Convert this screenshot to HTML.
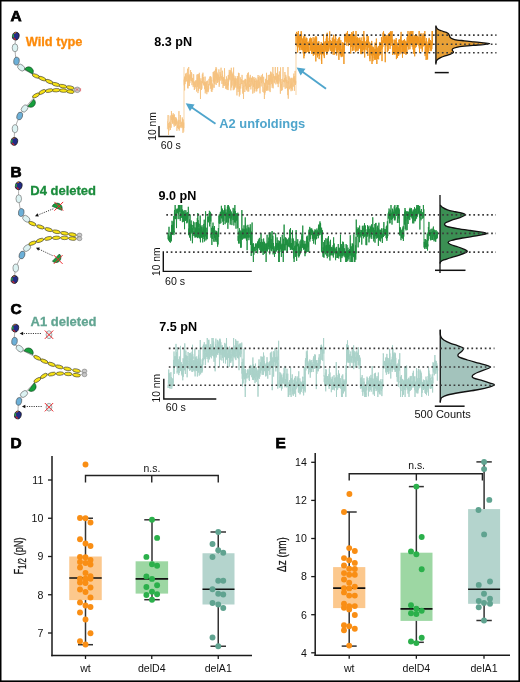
<!DOCTYPE html><html><head><meta charset="utf-8"><style>html,body{margin:0;padding:0;background:#fff;}svg{display:block;will-change:transform;}</style></head><body><svg width="520" height="682" viewBox="0 0 520 682" font-family='"Liberation Sans", sans-serif'>
<rect x="0" y="0" width="520" height="682" fill="#000"/>
<rect x="1.5" y="1.5" width="516.9" height="678.9" fill="#fff"/>
<text x="10.6" y="20.8" font-size="15.4" font-weight="bold" fill="#000" text-anchor="start" stroke="#000" stroke-width="0.75">A</text>
<text x="10.6" y="176.8" font-size="15.4" font-weight="bold" fill="#000" text-anchor="start" stroke="#000" stroke-width="0.75">B</text>
<text x="10.4" y="313.6" font-size="15.4" font-weight="bold" fill="#000" text-anchor="start" stroke="#000" stroke-width="0.75">C</text>
<text x="10.6" y="448.3" font-size="15.4" font-weight="bold" fill="#000" text-anchor="start" stroke="#000" stroke-width="0.75">D</text>
<text x="275.4" y="448.1" font-size="15.4" font-weight="bold" fill="#000" text-anchor="start" stroke="#000" stroke-width="0.75">E</text>
<path d="M15.8,36.1 C15.67,38.05 14.88,43.63 15,47.8 C15.12,51.97 15.47,57.8 16.5,61.1 C17.53,64.4 17.95,65.12 21.2,67.6 C24.45,70.08 32.5,74.17 36,76 C39.5,77.83 40,77.67 42.2,78.6 C44.4,79.53 46.92,80.63 49.2,81.6 C51.48,82.57 53.62,83.63 55.9,84.4 C58.18,85.17 60.5,85.67 62.9,86.2 C65.3,86.73 67.9,87 70.3,87.6 C72.7,88.2 77.3,89.13 77.3,89.8 C77.3,90.47 72.63,91.47 70.3,91.6 C67.97,91.73 65.65,90.83 63.3,90.6 C60.95,90.37 58.55,90.2 56.2,90.2 C53.85,90.2 51.53,90.3 49.2,90.6 C46.87,90.9 44.4,91.18 42.2,92 C40,92.82 38.93,92.75 36,95.5 C33.07,98.25 27.32,105.08 24.6,108.5 C21.88,111.92 21.3,112.63 19.7,116 C18.1,119.37 15.9,124.47 15,128.7 C14.1,132.93 14.42,139.28 14.3,141.4" fill="none" stroke="#777" stroke-width="0.6"/>
<ellipse cx="15.8" cy="36.1" rx="3.3" ry="3.9" transform="rotate(15 15.8 36.1)" fill="#232c86" stroke="#111" stroke-width="0.7"/>
<path d="M13.4,34.3 Q12.8,36.1 13.6,37.3" stroke="#2aa040" stroke-width="1.4" fill="none"/>
<path d="M13.8,37.7 Q14.6,39.3 15.8,39.5" stroke="#c8282a" stroke-width="1.2" fill="none"/>
<path d="M14,33.5 Q14.8,32.6 16.1,32.7" stroke="#d07020" stroke-width="1.0" fill="none"/>
<ellipse cx="15" cy="47.8" rx="4.0" ry="2.8" transform="rotate(90 15 47.8)" fill="#dcf2f2" stroke="#666" stroke-width="0.6"/>
<ellipse cx="16.5" cy="61.1" rx="4.0" ry="2.8" transform="rotate(100 16.5 61.1)" fill="#6cb0d8" stroke="#555" stroke-width="0.6"/>
<ellipse cx="21.2" cy="67.6" rx="4.0" ry="2.8" transform="rotate(40 21.2 67.6)" fill="#dcf2f2" stroke="#666" stroke-width="0.6"/>
<ellipse cx="24.6" cy="108.5" rx="4.0" ry="2.8" transform="rotate(-50 24.6 108.5)" fill="#dcf2f2" stroke="#666" stroke-width="0.6"/>
<ellipse cx="19.7" cy="116" rx="4.0" ry="2.8" transform="rotate(-70 19.7 116)" fill="#6cb0d8" stroke="#555" stroke-width="0.6"/>
<ellipse cx="15" cy="128.7" rx="4.0" ry="2.8" transform="rotate(-85 15 128.7)" fill="#dcf2f2" stroke="#666" stroke-width="0.6"/>
<ellipse cx="14.3" cy="141.4" rx="3.3" ry="3.9" transform="rotate(15 14.3 141.4)" fill="#232c86" stroke="#111" stroke-width="0.7"/>
<path d="M11.9,139.6 Q11.3,141.4 12.1,142.6" stroke="#2aa040" stroke-width="1.4" fill="none"/>
<path d="M12.3,143 Q13.1,144.6 14.3,144.8" stroke="#c8282a" stroke-width="1.2" fill="none"/>
<path d="M12.5,138.8 Q13.3,137.9 14.6,138" stroke="#d07020" stroke-width="1.0" fill="none"/>
<ellipse cx="36" cy="76" rx="3.9" ry="1.75" transform="rotate(22.75 36 76)" fill="#f7e216" stroke="#2a2a2a" stroke-width="0.55"/>
<ellipse cx="42.2" cy="78.6" rx="3.9" ry="1.75" transform="rotate(23.2 42.2 78.6)" fill="#f7e216" stroke="#2a2a2a" stroke-width="0.55"/>
<ellipse cx="49.2" cy="81.6" rx="3.9" ry="1.75" transform="rotate(22.68 49.2 81.6)" fill="#f7e216" stroke="#2a2a2a" stroke-width="0.55"/>
<ellipse cx="55.9" cy="84.4" rx="3.9" ry="1.75" transform="rotate(14.42 55.9 84.4)" fill="#f7e216" stroke="#2a2a2a" stroke-width="0.55"/>
<ellipse cx="62.9" cy="86.2" rx="3.9" ry="1.75" transform="rotate(10.71 62.9 86.2)" fill="#f7e216" stroke="#2a2a2a" stroke-width="0.55"/>
<ellipse cx="70.3" cy="87.6" rx="3.9" ry="1.75" transform="rotate(10.71 70.3 87.6)" fill="#f7e216" stroke="#2a2a2a" stroke-width="0.55"/>
<ellipse cx="70.3" cy="91.6" rx="3.9" ry="1.75" transform="rotate(-171.87 70.3 91.6)" fill="#f7e216" stroke="#2a2a2a" stroke-width="0.55"/>
<ellipse cx="63.3" cy="90.6" rx="3.9" ry="1.75" transform="rotate(-176.78 63.3 90.6)" fill="#f7e216" stroke="#2a2a2a" stroke-width="0.55"/>
<ellipse cx="56.2" cy="90.2" rx="3.9" ry="1.75" transform="rotate(176.73 56.2 90.2)" fill="#f7e216" stroke="#2a2a2a" stroke-width="0.55"/>
<ellipse cx="49.2" cy="90.6" rx="3.9" ry="1.75" transform="rotate(168.69 49.2 90.6)" fill="#f7e216" stroke="#2a2a2a" stroke-width="0.55"/>
<ellipse cx="42.2" cy="92" rx="3.9" ry="1.75" transform="rotate(150.55 42.2 92)" fill="#f7e216" stroke="#2a2a2a" stroke-width="0.55"/>
<ellipse cx="36" cy="95.5" rx="3.9" ry="1.75" transform="rotate(150.55 36 95.5)" fill="#f7e216" stroke="#2a2a2a" stroke-width="0.55"/>
<ellipse cx="77.3" cy="89.8" rx="2.8" ry="2.8" transform="rotate(0 77.3 89.8)" fill="#c8c8c8" stroke="#777" stroke-width="0.6"/>
<path d="M75.8,88.3 l2.5,2.5 m0,-2.5 l-2.5,2.5" stroke="#e0303a" stroke-width="0.6"/>
<path d="M80.6,88.2 v3.2" stroke="#e0303a" stroke-width="0.6"/>
<path d="M24.6,69.2 A4.68,4.68 0 0 1 32.7,73.9 Z" fill="#16a03c" stroke="#0a3a18" stroke-width="0.6"/>
<path d="M27.8,106.2 A4.61,4.61 0 0 0 33.8,99.2 Z" fill="#16a03c" stroke="#0a3a18" stroke-width="0.6"/>
<path d="M18.75,185.75 C18.75,187.92 18.33,194.29 18.75,198.75 C19.17,203.21 20,209.17 21.25,212.5 C22.5,215.83 24.41,216.9 26.25,218.75 C28.09,220.6 29.94,222.24 32.3,223.6 C34.66,224.96 37.68,225.9 40.4,226.9 C43.12,227.9 45.93,228.78 48.6,229.6 C51.27,230.42 53.75,231.18 56.4,231.8 C59.05,232.42 61.82,232.83 64.5,233.3 C67.18,233.77 70,234 72.5,234.6 C75,235.2 79.5,236.23 79.5,236.9 C79.5,237.57 75,238.43 72.5,238.6 C70,238.77 67.21,238.03 64.5,237.9 C61.79,237.77 58.96,237.72 56.25,237.8 C53.54,237.88 50.96,237.97 48.25,238.4 C45.54,238.83 42.62,239.6 40,240.4 C37.38,241.2 34.67,241.93 32.5,243.2 C30.33,244.47 28.75,246.03 27,248 C25.25,249.97 23.88,251.67 22,255 C20.12,258.33 17,263.92 15.75,268 C14.5,272.08 14.71,277.58 14.5,279.5" fill="none" stroke="#777" stroke-width="0.6"/>
<ellipse cx="18.75" cy="185.75" rx="3.3" ry="3.9" transform="rotate(15 18.75 185.75)" fill="#232c86" stroke="#111" stroke-width="0.7"/>
<path d="M16.35,183.95 Q15.75,185.75 16.55,186.95" stroke="#2aa040" stroke-width="1.4" fill="none"/>
<path d="M16.75,187.35 Q17.55,188.95 18.75,189.15" stroke="#c8282a" stroke-width="1.2" fill="none"/>
<path d="M16.95,183.15 Q17.75,182.25 19.05,182.35" stroke="#d07020" stroke-width="1.0" fill="none"/>
<ellipse cx="18.75" cy="198.75" rx="4.0" ry="2.8" transform="rotate(90 18.75 198.75)" fill="#dcf2f2" stroke="#666" stroke-width="0.6"/>
<ellipse cx="21.25" cy="212.5" rx="4.0" ry="2.8" transform="rotate(100 21.25 212.5)" fill="#6cb0d8" stroke="#555" stroke-width="0.6"/>
<ellipse cx="26.25" cy="218.75" rx="4.0" ry="2.8" transform="rotate(40 26.25 218.75)" fill="#dcf2f2" stroke="#666" stroke-width="0.6"/>
<ellipse cx="27" cy="248" rx="4.0" ry="2.8" transform="rotate(-40 27 248)" fill="#dcf2f2" stroke="#666" stroke-width="0.6"/>
<ellipse cx="22" cy="255" rx="4.0" ry="2.8" transform="rotate(-70 22 255)" fill="#6cb0d8" stroke="#555" stroke-width="0.6"/>
<ellipse cx="15.75" cy="268" rx="4.0" ry="2.8" transform="rotate(-85 15.75 268)" fill="#dcf2f2" stroke="#666" stroke-width="0.6"/>
<ellipse cx="14.5" cy="279.5" rx="3.3" ry="3.9" transform="rotate(15 14.5 279.5)" fill="#232c86" stroke="#111" stroke-width="0.7"/>
<path d="M12.1,277.7 Q11.5,279.5 12.3,280.7" stroke="#2aa040" stroke-width="1.4" fill="none"/>
<path d="M12.5,281.1 Q13.3,282.7 14.5,282.9" stroke="#c8282a" stroke-width="1.2" fill="none"/>
<path d="M12.7,276.9 Q13.5,276 14.8,276.1" stroke="#d07020" stroke-width="1.0" fill="none"/>
<ellipse cx="32.3" cy="223.6" rx="3.9" ry="1.75" transform="rotate(22.17 32.3 223.6)" fill="#f7e216" stroke="#2a2a2a" stroke-width="0.55"/>
<ellipse cx="40.4" cy="226.9" rx="3.9" ry="1.75" transform="rotate(18.23 40.4 226.9)" fill="#f7e216" stroke="#2a2a2a" stroke-width="0.55"/>
<ellipse cx="48.6" cy="229.6" rx="3.9" ry="1.75" transform="rotate(15.75 48.6 229.6)" fill="#f7e216" stroke="#2a2a2a" stroke-width="0.55"/>
<ellipse cx="56.4" cy="231.8" rx="3.9" ry="1.75" transform="rotate(10.49 56.4 231.8)" fill="#f7e216" stroke="#2a2a2a" stroke-width="0.55"/>
<ellipse cx="64.5" cy="233.3" rx="3.9" ry="1.75" transform="rotate(9.23 64.5 233.3)" fill="#f7e216" stroke="#2a2a2a" stroke-width="0.55"/>
<ellipse cx="72.5" cy="234.6" rx="3.9" ry="1.75" transform="rotate(9.23 72.5 234.6)" fill="#f7e216" stroke="#2a2a2a" stroke-width="0.55"/>
<ellipse cx="72.5" cy="238.6" rx="3.9" ry="1.75" transform="rotate(-175 72.5 238.6)" fill="#f7e216" stroke="#2a2a2a" stroke-width="0.55"/>
<ellipse cx="64.5" cy="237.9" rx="3.9" ry="1.75" transform="rotate(-179.31 64.5 237.9)" fill="#f7e216" stroke="#2a2a2a" stroke-width="0.55"/>
<ellipse cx="56.25" cy="237.8" rx="3.9" ry="1.75" transform="rotate(175.71 56.25 237.8)" fill="#f7e216" stroke="#2a2a2a" stroke-width="0.55"/>
<ellipse cx="48.25" cy="238.4" rx="3.9" ry="1.75" transform="rotate(166.37 48.25 238.4)" fill="#f7e216" stroke="#2a2a2a" stroke-width="0.55"/>
<ellipse cx="40" cy="240.4" rx="3.9" ry="1.75" transform="rotate(159.53 40 240.4)" fill="#f7e216" stroke="#2a2a2a" stroke-width="0.55"/>
<ellipse cx="32.5" cy="243.2" rx="3.9" ry="1.75" transform="rotate(159.53 32.5 243.2)" fill="#f7e216" stroke="#2a2a2a" stroke-width="0.55"/>
<ellipse cx="79.5" cy="235.1" rx="2.4" ry="2.0" transform="rotate(0 79.5 235.1)" fill="#c8c8c8" stroke="#777" stroke-width="0.6"/>
<ellipse cx="79.5" cy="238.7" rx="2.4" ry="2.0" transform="rotate(0 79.5 238.7)" fill="#c8c8c8" stroke="#777" stroke-width="0.6"/>
<path d="M52.2,206.3 A5.2,5.2 0 0 1 61.8,210.3 Z" fill="#16a03c" stroke="#0a3a18" stroke-width="0.6"/>
<path d="M54.4,201.9 L63.2,210.7 M63.2,201.9 L54.4,210.7" stroke="#f0282d" stroke-width="1.0"/>
<path d="M52.4,261.2 A5.02,5.02 0 0 0 59.4,254 Z" fill="#16a03c" stroke="#0a3a18" stroke-width="0.6"/>
<path d="M53.8,255.1 L62.6,263.9 M62.6,255.1 L53.8,263.9" stroke="#f0282d" stroke-width="1.0"/>
<line x1="53.3" y1="208.8" x2="38.15" y2="214.93" stroke="#222" stroke-width="0.9" stroke-dasharray="1.1 1.2"/>
<path d="M35,216.2 L37.48,213.26 L38.83,216.59 Z" fill="#111"/>
<line x1="52.5" y1="255.6" x2="39.07" y2="249.17" stroke="#222" stroke-width="0.9" stroke-dasharray="1.1 1.2"/>
<path d="M36,247.7 L39.84,247.54 L38.29,250.79 Z" fill="#111"/>
<path d="M15.3,328.1 C15.17,330.3 13.77,337.88 14.5,341.3 C15.23,344.72 15.9,345.85 19.7,348.6 C23.5,351.35 33.22,355.7 37.3,357.8 C41.38,359.9 41.82,360.12 44.2,361.2 C46.58,362.28 49.08,363.35 51.6,364.3 C54.12,365.25 56.65,366.13 59.3,366.9 C61.95,367.67 64.63,368.28 67.5,368.9 C70.37,369.52 73.67,369.93 76.5,370.6 C79.33,371.27 84.5,372.13 84.5,372.9 C84.5,373.67 79.22,375.02 76.5,375.2 C73.78,375.38 70.95,374.27 68.2,374 C65.45,373.73 62.72,373.58 60,373.6 C57.28,373.62 54.58,373.72 51.9,374.1 C49.22,374.48 46.33,374.9 43.9,375.9 C41.47,376.9 40.62,377.08 37.3,380.1 C33.98,383.12 27.07,390.45 24,394 C20.93,397.55 19.92,397.9 18.9,401.4 C17.88,404.9 18.07,412.73 17.9,415" fill="none" stroke="#777" stroke-width="0.6"/>
<ellipse cx="15.3" cy="328.1" rx="3.3" ry="3.9" transform="rotate(15 15.3 328.1)" fill="#232c86" stroke="#111" stroke-width="0.7"/>
<path d="M12.9,326.3 Q12.3,328.1 13.1,329.3" stroke="#2aa040" stroke-width="1.4" fill="none"/>
<path d="M13.3,329.7 Q14.1,331.3 15.3,331.5" stroke="#c8282a" stroke-width="1.2" fill="none"/>
<path d="M13.5,325.5 Q14.3,324.6 15.6,324.7" stroke="#d07020" stroke-width="1.0" fill="none"/>
<ellipse cx="14.5" cy="341.3" rx="4.0" ry="2.8" transform="rotate(100 14.5 341.3)" fill="#6cb0d8" stroke="#555" stroke-width="0.6"/>
<ellipse cx="19.7" cy="348.6" rx="4.0" ry="2.8" transform="rotate(40 19.7 348.6)" fill="#dcf2f2" stroke="#666" stroke-width="0.6"/>
<ellipse cx="24" cy="394" rx="4.0" ry="2.8" transform="rotate(-40 24 394)" fill="#dcf2f2" stroke="#666" stroke-width="0.6"/>
<ellipse cx="18.9" cy="401.4" rx="4.0" ry="2.8" transform="rotate(-75 18.9 401.4)" fill="#6cb0d8" stroke="#555" stroke-width="0.6"/>
<ellipse cx="17.9" cy="415" rx="3.3" ry="3.9" transform="rotate(15 17.9 415)" fill="#232c86" stroke="#111" stroke-width="0.7"/>
<path d="M15.5,413.2 Q14.9,415 15.7,416.2" stroke="#2aa040" stroke-width="1.4" fill="none"/>
<path d="M15.9,416.6 Q16.7,418.2 17.9,418.4" stroke="#c8282a" stroke-width="1.2" fill="none"/>
<path d="M16.1,412.4 Q16.9,411.5 18.2,411.6" stroke="#d07020" stroke-width="1.0" fill="none"/>
<ellipse cx="37.3" cy="357.8" rx="3.9" ry="1.75" transform="rotate(26.23 37.3 357.8)" fill="#f7e216" stroke="#2a2a2a" stroke-width="0.55"/>
<ellipse cx="44.2" cy="361.2" rx="3.9" ry="1.75" transform="rotate(22.73 44.2 361.2)" fill="#f7e216" stroke="#2a2a2a" stroke-width="0.55"/>
<ellipse cx="51.6" cy="364.3" rx="3.9" ry="1.75" transform="rotate(18.66 51.6 364.3)" fill="#f7e216" stroke="#2a2a2a" stroke-width="0.55"/>
<ellipse cx="59.3" cy="366.9" rx="3.9" ry="1.75" transform="rotate(13.71 59.3 366.9)" fill="#f7e216" stroke="#2a2a2a" stroke-width="0.55"/>
<ellipse cx="67.5" cy="368.9" rx="3.9" ry="1.75" transform="rotate(10.7 67.5 368.9)" fill="#f7e216" stroke="#2a2a2a" stroke-width="0.55"/>
<ellipse cx="76.5" cy="370.6" rx="3.9" ry="1.75" transform="rotate(10.7 76.5 370.6)" fill="#f7e216" stroke="#2a2a2a" stroke-width="0.55"/>
<ellipse cx="76.5" cy="375.2" rx="3.9" ry="1.75" transform="rotate(-171.77 76.5 375.2)" fill="#f7e216" stroke="#2a2a2a" stroke-width="0.55"/>
<ellipse cx="68.2" cy="374" rx="3.9" ry="1.75" transform="rotate(-177.21 68.2 374)" fill="#f7e216" stroke="#2a2a2a" stroke-width="0.55"/>
<ellipse cx="60" cy="373.6" rx="3.9" ry="1.75" transform="rotate(176.47 60 373.6)" fill="#f7e216" stroke="#2a2a2a" stroke-width="0.55"/>
<ellipse cx="51.9" cy="374.1" rx="3.9" ry="1.75" transform="rotate(167.32 51.9 374.1)" fill="#f7e216" stroke="#2a2a2a" stroke-width="0.55"/>
<ellipse cx="43.9" cy="375.9" rx="3.9" ry="1.75" transform="rotate(147.53 43.9 375.9)" fill="#f7e216" stroke="#2a2a2a" stroke-width="0.55"/>
<ellipse cx="37.3" cy="380.1" rx="3.9" ry="1.75" transform="rotate(147.53 37.3 380.1)" fill="#f7e216" stroke="#2a2a2a" stroke-width="0.55"/>
<ellipse cx="84.5" cy="371.1" rx="2.4" ry="2.0" transform="rotate(0 84.5 371.1)" fill="#c8c8c8" stroke="#777" stroke-width="0.6"/>
<ellipse cx="84.5" cy="374.7" rx="2.4" ry="2.0" transform="rotate(0 84.5 374.7)" fill="#c8c8c8" stroke="#777" stroke-width="0.6"/>
<path d="M24,350.8 A4.84,4.84 0 0 1 32.9,354.6 Z" fill="#16a03c" stroke="#0a3a18" stroke-width="0.6"/>
<path d="M28.5,390.4 A4.7,4.7 0 0 0 34.3,383 Z" fill="#16a03c" stroke="#0a3a18" stroke-width="0.6"/>
<ellipse cx="49" cy="334.7" rx="4.0" ry="2.9" transform="rotate(90 49 334.7)" fill="#dcf2f2" stroke="#777" stroke-width="0.6"/>
<path d="M44.8,330.5 L53.2,338.9 M53.2,330.5 L44.8,338.9" stroke="#f0282d" stroke-width="1.0"/>
<ellipse cx="49" cy="407.2" rx="4.0" ry="2.9" transform="rotate(90 49 407.2)" fill="#dcf2f2" stroke="#777" stroke-width="0.6"/>
<path d="M44.8,403 L53.2,411.4 M53.2,403 L44.8,411.4" stroke="#f0282d" stroke-width="1.0"/>
<line x1="40.9" y1="333.5" x2="23.1" y2="333.5" stroke="#222" stroke-width="0.9" stroke-dasharray="1.1 1.2"/>
<path d="M19.7,333.5 L23.1,331.7 L23.1,335.3 Z" fill="#111"/>
<line x1="41.7" y1="406.5" x2="25.3" y2="406.5" stroke="#222" stroke-width="0.9" stroke-dasharray="1.1 1.2"/>
<path d="M21.9,406.5 L25.3,404.7 L25.3,408.3 Z" fill="#111"/>
<text x="25.7" y="45.9" font-size="12.8" font-weight="bold" fill="#fc8a0a" text-anchor="start" stroke="#fc8a0a" stroke-width="0.3">Wild type</text>
<text x="30.3" y="195" font-size="13" font-weight="bold" fill="#1b8c3c" text-anchor="start" stroke="#1b8c3c" stroke-width="0.3">D4 deleted</text>
<text x="30.6" y="326.4" font-size="13" font-weight="bold" fill="#62a592" text-anchor="start" stroke="#62a592" stroke-width="0.3">A1 deleted</text>
<path d="M167.40,129.3 L167.54,123.1 L167.69,120.8 L167.83,120.4 L167.98,118.8 L168.12,115.0 L168.26,125.8 L168.41,126.2 L168.55,135.0 L168.69,123.1 L168.84,125.3 L168.98,130.6 L169.13,125.4 L169.27,127.6 L169.41,127.0 L169.56,124.4 L169.70,121.8 L169.84,124.9 L169.99,124.0 L170.13,118.8 L170.28,115.5 L170.42,130.0 L170.56,123.5 L170.71,122.9 L170.85,124.2 L170.99,124.7 L171.14,127.7 L171.28,123.9 L171.43,111.1 L171.57,116.1 L171.71,120.0 L171.86,117.1 L172.01,118.9 L172.15,122.1 L172.30,115.1 L172.45,123.8 L172.59,117.4 L172.74,114.8 L172.89,122.9 L173.03,116.2 L173.18,113.2 L173.33,119.4 L173.47,116.1 L173.62,119.8 L173.77,115.0 L173.91,124.6 L174.06,119.3 L174.21,126.7 L174.36,114.4 L174.50,116.6 L174.65,116.8 L174.80,119.1 L174.94,123.4 L175.09,117.2 L175.24,119.3 L175.38,125.7 L175.53,120.0 L175.68,122.7 L175.82,125.3 L175.97,117.4 L176.12,123.8 L176.26,123.6 L176.41,118.6 L176.56,124.3 L176.70,119.2 L176.85,130.8 L177.00,130.2 L177.15,127.6 L177.30,126.3 L177.45,125.1 L177.60,128.0 L177.75,121.4 L177.90,121.6 L178.05,127.3 L178.20,120.2 L178.35,125.4 L178.50,129.1 L178.65,125.1 L178.80,116.3 L178.95,111.1 L179.10,125.0 L179.25,130.6 L179.40,125.7 L179.55,128.3 L179.71,128.0 L179.86,120.2 L180.01,120.2 L180.16,124.2 L180.32,115.0 L180.47,126.1 L180.62,125.9 L180.77,127.1 L180.93,124.9 L181.08,128.1 L181.22,124.7 L181.37,123.1 L181.52,126.4 L181.66,121.8 L181.81,124.5 L181.95,124.3 L182.10,123.5 L182.25,117.4 L182.39,127.7 L182.54,118.8 L182.69,126.8 L182.83,124.2 L182.98,132.9 L183.12,120.0 L183.27,119.5 L183.42,129.5 L183.56,128.2 L183.71,122.6 L183.85,131.7" fill="none" stroke="#f5c17f" stroke-width="0.8" stroke-linejoin="round" opacity="1"/>
<path d="M184.00,79.6 L184.15,82.5 L184.29,85.4 L184.44,77.4 L184.59,90.4 L184.74,76.5 L184.88,77.3 L185.03,84.1 L185.18,77.1 L185.32,76.3 L185.47,73.6 L185.62,81.8 L185.77,74.9 L185.91,75.7 L186.06,79.9 L186.21,81.0 L186.35,77.8 L186.50,78.5 L186.65,77.5 L186.80,73.1 L186.94,81.6 L187.09,73.3 L187.24,72.5 L187.38,72.9 L187.53,68.7 L187.68,87.9 L187.82,80.2 L187.97,88.5 L188.12,75.2 L188.26,82.7 L188.41,78.3 L188.55,81.8 L188.70,67.0 L188.84,86.0 L188.99,75.7 L189.14,79.1 L189.28,74.4 L189.43,85.9 L189.57,77.0 L189.72,76.8 L189.86,83.0 L190.01,79.5 L190.15,79.0 L190.30,79.7 L190.45,73.5 L190.59,70.0 L190.74,78.6 L190.88,75.2 L191.03,81.1 L191.17,78.8 L191.32,72.0 L191.47,80.9 L191.61,81.2 L191.76,73.5 L191.90,84.9 L192.05,85.2 L192.19,82.2 L192.34,77.9 L192.48,82.4 L192.62,80.9 L192.77,78.3 L192.91,82.2 L193.05,81.8 L193.20,87.1 L193.34,83.8 L193.48,84.7 L193.63,74.2 L193.77,76.8 L193.91,85.2 L194.06,81.7 L194.20,81.2 L194.34,90.0 L194.49,84.2 L194.63,82.6 L194.77,82.0 L194.92,88.8 L195.06,86.4 L195.20,86.7 L195.35,83.7 L195.49,87.0 L195.63,80.5 L195.78,87.1 L195.92,83.1 L196.06,82.9 L196.21,80.4 L196.36,80.3 L196.51,91.5 L196.65,89.9 L196.80,83.4 L196.95,74.6 L197.09,78.2 L197.24,84.6 L197.39,77.9 L197.53,86.9 L197.68,80.5 L197.83,74.1 L197.98,93.1 L198.12,86.4 L198.27,81.4 L198.42,85.7 L198.56,90.9 L198.71,74.2 L198.86,84.8 L199.01,75.7 L199.15,81.3 L199.30,72.8 L199.45,88.7 L199.59,75.7 L199.74,81.0 L199.89,84.7 L200.03,82.7 L200.18,80.4 L200.32,83.2 L200.47,99.0 L200.61,83.6 L200.76,83.8 L200.90,78.3 L201.05,82.6 L201.19,86.0 L201.34,87.2 L201.48,90.0 L201.63,81.1 L201.77,85.9 L201.92,88.7 L202.06,81.2 L202.21,77.3 L202.35,74.3 L202.50,83.0 L202.64,74.7 L202.79,75.9 L202.93,72.7 L203.08,83.3 L203.22,82.8 L203.37,84.5 L203.51,81.9 L203.66,76.8 L203.80,80.2 L203.94,85.1 L204.09,83.0 L204.23,86.0 L204.38,81.5 L204.52,89.2 L204.67,85.5 L204.81,82.7 L204.96,82.9 L205.10,76.6 L205.25,93.4 L205.39,82.0 L205.53,91.2 L205.68,83.1 L205.82,85.0 L205.97,83.4 L206.11,91.1 L206.26,84.6 L206.40,91.8 L206.55,81.3 L206.69,89.4 L206.84,94.2 L206.98,88.6 L207.12,86.2 L207.27,80.8 L207.41,81.2 L207.56,80.8 L207.70,91.6 L207.85,86.1 L207.99,87.8 L208.14,92.2 L208.28,88.1 L208.43,90.4 L208.57,84.1 L208.71,89.4 L208.86,84.1 L209.00,78.9 L209.15,84.8 L209.29,85.3 L209.44,78.2 L209.58,77.6 L209.72,76.7 L209.87,77.0 L210.01,79.4 L210.16,84.6 L210.30,85.4 L210.45,76.3 L210.59,88.7 L210.73,76.5 L210.88,83.6 L211.02,83.5 L211.17,77.3 L211.31,91.3 L211.45,89.0 L211.60,79.9 L211.74,86.2 L211.88,92.0 L212.03,90.4 L212.17,86.5 L212.31,83.5 L212.46,89.3 L212.60,89.1 L212.74,89.5 L212.89,84.6 L213.03,87.6 L213.18,72.1 L213.32,81.4 L213.46,79.2 L213.61,71.7 L213.75,75.4 L213.89,82.5 L214.04,78.4 L214.18,87.8 L214.32,75.8 L214.47,83.5 L214.61,70.8 L214.75,77.4 L214.90,73.1 L215.04,84.1 L215.18,77.8 L215.33,76.5 L215.47,77.4 L215.61,68.9 L215.76,81.3 L215.90,74.3 L216.04,67.0 L216.19,85.0 L216.33,77.4 L216.47,79.5 L216.62,68.6 L216.76,78.5 L216.90,75.8 L217.05,76.1 L217.19,72.5 L217.33,82.7 L217.48,77.1 L217.62,82.6 L217.77,73.9 L217.91,78.5 L218.05,81.9 L218.20,79.1 L218.34,74.9 L218.48,76.1 L218.63,80.0 L218.77,75.2 L218.91,69.4 L219.06,80.8 L219.20,86.8 L219.34,76.9 L219.48,84.7 L219.63,81.8 L219.77,78.8 L219.91,79.6 L220.06,72.1 L220.20,77.9 L220.34,76.5 L220.49,74.6 L220.63,73.9 L220.77,80.7 L220.92,70.0 L221.06,67.7 L221.20,75.7 L221.34,77.9 L221.49,77.1 L221.63,79.0 L221.77,76.1 L221.92,83.9 L222.06,78.5 L222.20,79.8 L222.35,70.7 L222.49,80.7 L222.63,75.4 L222.77,77.6 L222.92,78.2 L223.06,88.0 L223.20,79.1 L223.35,84.0 L223.49,77.1 L223.63,84.1 L223.78,85.5 L223.92,78.8 L224.06,83.1 L224.21,86.0 L224.35,84.1 L224.49,68.2 L224.63,74.2 L224.78,80.0 L224.92,79.8 L225.07,83.7 L225.21,79.4 L225.36,84.8 L225.50,82.1 L225.65,88.7 L225.79,86.2 L225.94,84.1 L226.09,85.0 L226.23,85.0 L226.38,83.3 L226.52,76.4 L226.67,88.5 L226.81,88.8 L226.96,83.9 L227.10,89.8 L227.25,78.6 L227.39,82.2 L227.54,87.5 L227.68,82.7 L227.83,83.2 L227.98,83.0 L228.12,90.1 L228.27,75.0 L228.41,85.4 L228.56,75.0 L228.70,78.3 L228.84,81.4 L228.99,73.7 L229.13,72.9 L229.28,69.9 L229.42,79.3 L229.56,71.8 L229.71,77.2 L229.85,76.6 L230.00,79.8 L230.14,74.1 L230.28,75.6 L230.43,70.3 L230.57,74.9 L230.72,81.8 L230.86,90.4 L231.01,84.8 L231.15,73.7 L231.29,67.8 L231.44,87.1 L231.58,87.5 L231.73,74.6 L231.87,71.7 L232.01,78.5 L232.16,85.5 L232.30,76.2 L232.45,73.5 L232.59,80.1 L232.73,80.6 L232.88,74.4 L233.02,81.7 L233.17,87.5 L233.31,90.2 L233.45,77.4 L233.60,67.5 L233.74,79.9 L233.89,75.5 L234.03,87.1 L234.17,89.6 L234.32,78.9 L234.47,88.4 L234.61,80.7 L234.76,78.4 L234.90,87.0 L235.05,78.7 L235.20,76.3 L235.34,84.3 L235.49,80.5 L235.63,85.6 L235.78,78.3 L235.93,87.7 L236.07,83.2 L236.22,78.6 L236.36,80.8 L236.51,81.6 L236.65,85.4 L236.80,90.0 L236.95,95.4 L237.09,87.7 L237.24,76.4 L237.39,76.0 L237.54,79.5 L237.69,88.7 L237.84,78.1 L237.99,80.6 L238.14,92.0 L238.29,80.6 L238.44,72.8 L238.59,76.9 L238.74,76.5 L238.89,89.3 L239.04,73.1 L239.18,82.9 L239.32,96.5 L239.47,86.5 L239.61,91.5 L239.75,86.1 L239.90,94.7 L240.04,84.0 L240.19,84.9 L240.33,77.3 L240.47,82.7 L240.62,88.3 L240.76,88.6 L240.90,87.1 L241.05,83.8 L241.19,83.0 L241.33,82.7 L241.48,79.2 L241.62,83.8 L241.77,83.0 L241.91,84.1 L242.05,74.9 L242.20,79.4 L242.34,86.0 L242.48,86.6 L242.63,92.6 L242.77,93.6 L242.92,80.7 L243.06,82.1 L243.21,80.5 L243.35,82.3 L243.50,99.0 L243.64,86.1 L243.79,86.9 L243.93,83.1 L244.08,82.2 L244.22,83.1 L244.37,80.1 L244.51,82.3 L244.66,84.3 L244.80,92.0 L244.95,88.5 L245.09,78.8 L245.24,81.9 L245.38,86.3 L245.53,82.1 L245.67,79.2 L245.82,86.1 L245.96,79.8 L246.11,89.3 L246.25,86.1 L246.39,89.3 L246.54,90.4 L246.68,85.5 L246.83,83.5 L246.97,87.8 L247.12,74.9 L247.26,81.0 L247.41,84.2 L247.55,73.3 L247.70,84.6 L247.84,91.6 L247.99,80.1 L248.13,88.6 L248.28,86.9 L248.42,72.4 L248.57,75.0 L248.71,91.5 L248.86,86.1 L249.00,76.7 L249.15,79.3 L249.29,82.0 L249.44,78.2 L249.58,87.0 L249.73,84.3 L249.87,86.9 L250.02,86.2 L250.16,86.4 L250.31,74.9 L250.45,79.3 L250.60,84.3 L250.74,84.3 L250.89,89.4 L251.03,82.6 L251.17,85.8 L251.32,77.7 L251.46,82.4 L251.61,80.7 L251.75,78.3 L251.90,81.1 L252.04,83.6 L252.19,84.5 L252.33,80.1 L252.48,76.3 L252.62,78.3 L252.77,93.6 L252.91,86.7 L253.05,77.5 L253.20,87.1 L253.34,86.6 L253.48,84.6 L253.63,87.0 L253.77,82.4 L253.92,82.2 L254.06,77.1 L254.20,92.7 L254.35,79.1 L254.49,91.0 L254.64,84.4 L254.78,80.8 L254.92,84.2 L255.07,88.8 L255.21,88.6 L255.36,81.0 L255.50,82.1 L255.64,81.3 L255.79,77.8 L255.93,79.1 L256.07,91.4 L256.22,83.2 L256.36,82.7 L256.51,89.5 L256.65,79.5 L256.79,91.3 L256.94,88.2 L257.08,81.7 L257.23,82.4 L257.37,80.9 L257.51,88.9 L257.66,80.6 L257.80,81.1 L257.95,79.8 L258.09,75.0 L258.24,81.3 L258.39,77.1 L258.53,88.2 L258.68,79.2 L258.82,81.4 L258.97,85.5 L259.11,84.6 L259.26,81.7 L259.41,84.0 L259.55,84.6 L259.70,87.6 L259.84,75.7 L259.99,93.4 L260.14,78.9 L260.28,77.2 L260.43,80.1 L260.57,78.4 L260.72,77.5 L260.86,81.0 L261.01,82.2 L261.16,86.4 L261.30,77.1 L261.45,83.2 L261.59,81.3 L261.74,75.3 L261.88,76.3 L262.03,77.9 L262.18,81.7 L262.32,81.6 L262.47,73.9 L262.62,82.5 L262.77,88.6 L262.92,91.9 L263.07,81.0 L263.22,83.4 L263.37,82.1 L263.52,81.4 L263.67,76.8 L263.82,81.3 L263.97,92.7 L264.12,87.4 L264.27,89.8 L264.42,99.0 L264.57,82.8 L264.72,94.7 L264.87,85.1 L265.02,83.7 L265.17,92.5 L265.32,87.9 L265.47,85.2 L265.62,79.0 L265.77,84.4 L265.92,87.5 L266.07,89.9 L266.22,78.5 L266.37,83.6 L266.52,72.8 L266.67,90.9 L266.82,87.1 L266.97,86.4 L267.11,90.5 L267.26,89.0 L267.40,80.2 L267.55,87.9 L267.69,86.0 L267.83,90.2 L267.98,86.5 L268.12,79.7 L268.27,75.0 L268.41,84.7 L268.56,84.1 L268.70,78.8 L268.84,82.2 L268.99,80.8 L269.13,90.8 L269.28,74.8 L269.42,84.6 L269.57,78.9 L269.71,78.3 L269.85,85.1 L270.00,74.7 L270.14,92.1 L270.29,82.1 L270.43,79.2 L270.58,71.6 L270.72,77.4 L270.86,81.3 L271.01,71.9 L271.15,82.2 L271.30,77.6 L271.44,84.1 L271.58,74.4 L271.72,76.9 L271.87,75.1 L272.01,73.2 L272.15,87.8 L272.30,77.2 L272.44,85.8 L272.58,82.7 L272.72,75.1 L272.87,67.0 L273.01,71.9 L273.15,88.3 L273.30,77.6 L273.44,74.2 L273.58,77.2 L273.72,77.9 L273.87,77.8 L274.01,76.0 L274.15,82.3 L274.30,77.7 L274.44,77.0 L274.58,79.5 L274.73,83.3 L274.87,75.9 L275.01,77.0 L275.15,79.5 L275.30,67.0 L275.44,79.6 L275.58,77.5 L275.73,76.4 L275.87,84.4 L276.01,82.9 L276.15,82.9 L276.30,76.3 L276.44,78.6 L276.58,82.3 L276.73,82.0 L276.87,73.2 L277.01,81.0 L277.16,72.8 L277.31,83.5 L277.46,83.8 L277.60,67.0 L277.75,83.2 L277.90,80.9 L278.04,74.7 L278.19,87.1 L278.34,74.8 L278.48,80.0 L278.63,78.3 L278.78,78.6 L278.92,83.6 L279.07,77.8 L279.22,74.7 L279.36,71.4 L279.51,74.7 L279.66,77.7 L279.80,80.1 L279.95,81.5 L280.10,74.0 L280.24,77.2 L280.39,93.7 L280.54,67.4 L280.68,87.8 L280.83,81.4 L280.98,81.4 L281.12,85.9 L281.27,84.1 L281.41,90.8 L281.56,84.7 L281.71,83.8 L281.85,79.1 L282.00,81.5 L282.14,85.7 L282.29,90.2 L282.44,84.0 L282.58,78.2 L282.73,77.8 L282.87,76.6 L283.02,67.0 L283.17,77.8 L283.31,78.9 L283.46,81.8 L283.61,80.0 L283.75,82.8 L283.90,87.2 L284.04,86.8 L284.19,82.0 L284.34,82.1 L284.48,78.2 L284.63,82.3 L284.77,80.6 L284.92,72.0 L285.07,79.3 L285.21,88.8 L285.36,79.7 L285.50,81.4 L285.65,79.8 L285.80,74.8 L285.94,80.1 L286.09,76.7 L286.24,83.4 L286.38,88.2 L286.53,79.7 L286.67,83.3 L286.82,80.1 L286.97,80.0 L287.11,81.3 L287.26,82.6 L287.40,81.9 L287.55,90.7 L287.70,87.1 L287.84,95.1 L287.99,67.0 L288.14,89.0 L288.28,98.7 L288.43,81.2 L288.57,83.6 L288.72,80.3 L288.87,76.1 L289.01,76.2 L289.16,87.1 L289.31,86.7 L289.45,88.1 L289.60,89.3 L289.74,77.5 L289.89,78.0 L290.04,81.3 L290.18,83.2 L290.33,88.1 L290.47,84.6 L290.62,85.9 L290.77,78.8 L290.91,84.0 L291.06,91.2 L291.21,78.1 L291.35,89.1 L291.50,83.4 L291.64,85.6 L291.79,87.6 L291.93,77.7 L292.08,80.1 L292.22,87.2 L292.37,90.6 L292.52,81.6 L292.66,80.0 L292.81,78.5 L292.95,79.8 L293.10,81.1 L293.24,86.4 L293.39,86.7 L293.53,76.5 L293.68,81.2 L293.82,73.6 L293.97,82.1 L294.11,77.5 L294.26,78.3 L294.40,90.8 L294.55,77.8 L294.69,76.1 L294.84,76.7 L294.98,83.3 L295.13,70.9 L295.27,77.8 L295.42,85.0 L295.56,80.9 L295.71,80.8 L295.85,83.5" fill="none" stroke="#f5c17f" stroke-width="0.8" stroke-linejoin="round" opacity="1"/>
<path d="M296.00,33.6 L296.10,44.2 L296.20,34.7 L296.31,39.5 L296.41,45.4 L296.51,31.9 L296.61,46.2 L296.71,38.9 L296.81,44.7 L296.92,39.5 L297.02,37.4 L297.12,41.4 L297.22,41.3 L297.32,38.2 L297.42,32.8 L297.53,36.5 L297.63,52.6 L297.73,39.3 L297.83,41.5 L297.93,43.3 L298.03,44.5 L298.14,47.4 L298.24,43.4 L298.34,31.0 L298.44,43.8 L298.54,36.8 L298.65,39.5 L298.75,39.2 L298.85,46.0 L298.95,40.9 L299.05,41.0 L299.15,37.8 L299.26,44.4 L299.36,36.0 L299.46,50.3 L299.56,40.9 L299.66,48.0 L299.76,39.2 L299.87,41.1 L299.97,40.8 L300.07,45.5 L300.17,38.8 L300.27,41.4 L300.37,35.0 L300.48,41.6 L300.58,44.6 L300.68,46.7 L300.78,47.3 L300.88,44.3 L300.98,50.2 L301.09,43.9 L301.19,31.1 L301.29,40.0 L301.39,32.2 L301.49,32.9 L301.60,34.5 L301.70,35.8 L301.80,47.8 L301.90,49.7 L302.00,42.7 L302.10,47.8 L302.20,45.9 L302.30,38.7 L302.40,43.9 L302.50,43.9 L302.60,50.3 L302.70,46.8 L302.80,41.5 L302.90,48.9 L303.00,38.5 L303.10,45.9 L303.21,53.4 L303.31,51.5 L303.41,46.6 L303.51,43.9 L303.61,36.4 L303.71,40.9 L303.81,44.6 L303.91,58.3 L304.01,48.6 L304.11,52.9 L304.21,44.4 L304.31,44.8 L304.41,48.6 L304.51,56.0 L304.61,51.7 L304.71,34.6 L304.81,48.3 L304.91,41.3 L305.01,49.5 L305.11,45.4 L305.21,41.9 L305.31,49.5 L305.42,46.8 L305.52,52.9 L305.62,40.8 L305.72,40.6 L305.82,42.9 L305.92,39.0 L306.02,41.0 L306.12,37.5 L306.22,52.9 L306.32,46.5 L306.42,38.2 L306.52,41.8 L306.63,43.7 L306.73,45.0 L306.83,44.5 L306.93,38.3 L307.03,49.3 L307.13,49.0 L307.23,42.3 L307.33,45.1 L307.43,51.7 L307.53,42.0 L307.63,43.1 L307.74,45.3 L307.84,42.4 L307.94,42.9 L308.04,46.7 L308.14,46.3 L308.24,46.2 L308.34,42.7 L308.44,48.8 L308.54,52.6 L308.64,49.3 L308.74,46.6 L308.85,47.0 L308.95,48.4 L309.05,52.3 L309.15,40.8 L309.25,44.5 L309.35,44.3 L309.45,40.3 L309.55,38.5 L309.65,45.2 L309.75,44.9 L309.85,39.9 L309.95,44.2 L310.05,45.6 L310.15,41.1 L310.26,41.9 L310.36,50.7 L310.46,47.7 L310.56,37.6 L310.66,43.0 L310.76,41.5 L310.86,49.6 L310.96,41.2 L311.06,49.8 L311.16,41.0 L311.26,47.6 L311.36,38.3 L311.46,48.3 L311.56,38.9 L311.67,53.9 L311.77,45.7 L311.87,42.2 L311.98,43.3 L312.08,42.3 L312.18,43.3 L312.29,53.6 L312.39,43.3 L312.49,50.4 L312.60,46.2 L312.70,50.3 L312.80,45.7 L312.91,41.1 L313.01,40.9 L313.11,37.2 L313.22,50.5 L313.32,55.8 L313.42,49.8 L313.53,48.2 L313.63,46.3 L313.73,41.2 L313.83,48.5 L313.93,48.7 L314.03,46.3 L314.13,47.0 L314.23,53.7 L314.33,52.6 L314.43,45.9 L314.53,49.3 L314.63,47.3 L314.73,50.9 L314.83,54.7 L314.93,37.5 L315.03,50.7 L315.13,39.2 L315.23,46.3 L315.33,44.8 L315.43,50.3 L315.53,44.8 L315.63,47.8 L315.73,43.4 L315.83,61.4 L315.93,36.1 L316.03,41.0 L316.13,53.1 L316.23,51.2 L316.33,37.5 L316.43,51.4 L316.53,45.5 L316.64,37.5 L316.74,44.5 L316.84,45.9 L316.94,45.0 L317.04,55.3 L317.14,52.7 L317.24,53.4 L317.34,49.3 L317.44,57.4 L317.54,55.9 L317.65,44.9 L317.75,54.4 L317.85,55.9 L317.95,53.0 L318.05,41.7 L318.15,52.2 L318.26,52.2 L318.36,49.1 L318.46,46.3 L318.56,49.4 L318.66,49.1 L318.77,46.7 L318.87,41.2 L318.97,47.0 L319.07,53.5 L319.17,59.1 L319.28,49.9 L319.38,51.6 L319.48,55.7 L319.58,45.7 L319.68,52.4 L319.78,44.9 L319.89,46.0 L319.99,50.5 L320.09,48.7 L320.19,47.7 L320.29,49.3 L320.40,47.0 L320.50,44.0 L320.60,50.6 L320.70,54.4 L320.80,48.1 L320.90,53.7 L321.01,45.6 L321.11,53.4 L321.21,42.1 L321.31,54.3 L321.41,60.5 L321.52,50.6 L321.62,52.9 L321.72,64.0 L321.82,48.9 L321.92,53.7 L322.02,52.8 L322.12,43.8 L322.22,49.3 L322.32,50.0 L322.42,46.0 L322.53,47.6 L322.63,52.8 L322.73,46.2 L322.83,54.2 L322.93,54.4 L323.03,50.8 L323.13,49.4 L323.23,51.4 L323.33,54.4 L323.43,51.7 L323.53,34.2 L323.64,46.5 L323.74,45.9 L323.84,45.3 L323.94,45.6 L324.04,43.6 L324.14,56.2 L324.24,52.8 L324.34,58.1 L324.44,48.5 L324.54,43.4 L324.65,45.2 L324.75,43.4 L324.85,42.3 L324.95,47.2 L325.05,49.2 L325.15,41.2 L325.25,48.4 L325.35,49.5 L325.45,45.9 L325.55,47.9 L325.65,42.1 L325.76,51.6 L325.86,47.1 L325.96,45.4 L326.06,41.0 L326.16,50.0 L326.26,38.6 L326.36,41.5 L326.46,35.1 L326.56,40.2 L326.66,40.9 L326.77,55.0 L326.87,49.5 L326.97,47.3 L327.07,49.6 L327.17,32.8 L327.27,45.4 L327.37,52.6 L327.47,40.0 L327.57,44.7 L327.67,46.0 L327.78,44.7 L327.88,43.9 L327.98,42.8 L328.08,41.8 L328.18,46.1 L328.28,46.4 L328.38,45.7 L328.48,41.5 L328.58,51.3 L328.68,42.5 L328.78,50.3 L328.88,45.6 L328.98,41.0 L329.08,47.1 L329.18,44.3 L329.28,37.8 L329.38,44.2 L329.48,35.5 L329.58,43.4 L329.68,31.4 L329.78,44.6 L329.88,44.1 L329.99,44.4 L330.09,48.7 L330.19,40.0 L330.29,48.9 L330.39,49.9 L330.49,50.8 L330.59,46.6 L330.69,44.1 L330.79,44.2 L330.89,48.5 L330.99,44.1 L331.09,43.4 L331.19,41.4 L331.29,46.3 L331.39,43.8 L331.49,53.6 L331.59,41.5 L331.69,48.2 L331.79,47.1 L331.89,44.5 L331.99,42.9 L332.09,44.0 L332.19,43.3 L332.30,37.6 L332.40,43.6 L332.50,49.5 L332.60,51.6 L332.70,42.3 L332.80,39.4 L332.90,41.3 L333.00,45.5 L333.10,49.6 L333.20,54.8 L333.30,48.1 L333.40,49.1 L333.50,43.5 L333.60,51.3 L333.70,34.8 L333.80,40.1 L333.90,48.3 L334.00,45.0 L334.10,42.9 L334.20,44.3 L334.30,47.2 L334.40,46.5 L334.50,46.9 L334.60,54.7 L334.70,49.5 L334.80,38.9 L334.90,50.4 L335.00,40.3 L335.10,45.3 L335.20,40.8 L335.30,40.4 L335.40,40.3 L335.50,47.2 L335.60,34.5 L335.70,44.4 L335.80,38.1 L335.90,46.5 L336.00,47.5 L336.11,41.1 L336.21,45.9 L336.31,48.1 L336.41,46.6 L336.51,47.5 L336.62,55.4 L336.72,55.5 L336.83,46.4 L336.93,52.9 L337.04,48.0 L337.14,53.1 L337.25,46.5 L337.35,51.0 L337.46,44.4 L337.56,41.3 L337.67,50.0 L337.77,47.3 L337.88,43.1 L337.98,39.2 L338.09,48.5 L338.19,41.3 L338.30,49.9 L338.40,44.9 L338.51,37.8 L338.61,45.4 L338.71,49.6 L338.81,46.0 L338.91,59.9 L339.01,48.2 L339.11,39.5 L339.22,46.8 L339.32,42.1 L339.42,48.6 L339.52,50.9 L339.62,36.9 L339.72,42.1 L339.82,42.8 L339.93,47.8 L340.03,46.1 L340.13,45.8 L340.23,42.6 L340.33,55.3 L340.43,42.1 L340.53,48.5 L340.63,50.8 L340.73,45.3 L340.83,40.2 L340.93,52.2 L341.03,54.8 L341.13,54.5 L341.23,57.1 L341.33,53.4 L341.43,53.0 L341.53,55.8 L341.63,52.7 L341.73,49.3 L341.83,49.6 L341.93,50.3 L342.03,54.8 L342.13,45.6 L342.23,55.7 L342.33,42.2 L342.43,53.5 L342.53,54.8 L342.63,51.5 L342.73,56.6 L342.83,48.1 L342.93,48.9 L343.03,47.1 L343.13,53.3 L343.23,54.0 L343.33,53.1 L343.43,43.2 L343.53,42.9 L343.63,49.6 L343.73,45.6 L343.83,48.5 L343.93,64.0 L344.03,45.7 L344.13,50.0 L344.23,49.0 L344.33,42.6 L344.44,51.6 L344.54,46.4 L344.64,36.2 L344.74,36.6 L344.84,41.6 L344.94,33.9 L345.04,36.2 L345.14,39.2 L345.25,39.6 L345.35,34.0 L345.45,40.7 L345.55,37.1 L345.65,38.4 L345.75,38.3 L345.85,39.0 L345.96,42.5 L346.06,42.4 L346.16,37.7 L346.26,41.5 L346.36,32.8 L346.46,36.3 L346.57,37.4 L346.67,33.5 L346.77,45.4 L346.87,45.6 L346.97,37.1 L347.07,39.7 L347.18,41.3 L347.28,41.1 L347.38,40.3 L347.48,31.0 L347.58,35.1 L347.68,38.1 L347.79,42.7 L347.89,37.6 L347.99,37.2 L348.09,41.0 L348.19,34.2 L348.29,35.8 L348.40,46.1 L348.50,39.9 L348.60,42.1 L348.70,38.5 L348.80,44.6 L348.90,37.0 L349.01,42.3 L349.11,34.1 L349.21,38.2 L349.31,39.2 L349.41,42.2 L349.51,41.1 L349.62,38.4 L349.72,38.6 L349.82,37.0 L349.92,35.2 L350.02,41.7 L350.12,42.3 L350.23,38.5 L350.33,35.8 L350.43,34.1 L350.53,35.1 L350.63,38.5 L350.74,53.6 L350.84,37.2 L350.94,46.3 L351.04,42.9 L351.15,45.3 L351.25,41.5 L351.35,46.8 L351.45,46.3 L351.56,38.2 L351.66,40.4 L351.76,32.0 L351.87,46.0 L351.97,36.4 L352.07,46.3 L352.17,43.3 L352.28,49.8 L352.38,50.9 L352.48,33.4 L352.59,34.7 L352.69,50.0 L352.79,33.8 L352.89,40.1 L353.00,47.4 L353.10,42.3 L353.20,31.8 L353.30,31.0 L353.41,33.8 L353.51,47.5 L353.61,46.6 L353.71,46.1 L353.82,40.8 L353.92,50.6 L354.02,50.6 L354.12,35.5 L354.23,41.2 L354.33,44.5 L354.43,38.4 L354.53,37.5 L354.64,42.2 L354.74,44.7 L354.84,40.8 L354.94,46.1 L355.05,35.4 L355.15,40.4 L355.25,41.2 L355.35,48.3 L355.46,48.9 L355.56,46.8 L355.66,52.2 L355.76,43.9 L355.87,43.3 L355.97,31.0 L356.07,47.5 L356.17,43.8 L356.28,42.4 L356.38,44.1 L356.48,38.1 L356.58,50.7 L356.68,48.4 L356.78,42.7 L356.88,42.9 L356.99,44.1 L357.09,43.8 L357.19,44.7 L357.29,36.9 L357.39,38.9 L357.49,41.6 L357.59,38.2 L357.69,45.9 L357.79,45.9 L357.90,51.2 L358.00,43.8 L358.10,38.2 L358.20,49.7 L358.30,42.4 L358.40,44.0 L358.50,40.7 L358.60,41.6 L358.71,41.7 L358.81,48.2 L358.91,48.1 L359.01,47.9 L359.11,43.4 L359.21,46.5 L359.31,37.7 L359.41,45.1 L359.51,41.2 L359.62,42.2 L359.72,45.2 L359.82,40.3 L359.92,41.2 L360.02,48.8 L360.12,43.7 L360.22,40.0 L360.32,48.6 L360.43,47.1 L360.53,42.8 L360.63,53.0 L360.73,45.2 L360.83,54.1 L360.93,46.3 L361.03,41.9 L361.13,37.5 L361.24,50.7 L361.34,47.6 L361.44,41.4 L361.54,53.5 L361.64,49.2 L361.74,54.1 L361.84,51.6 L361.94,46.9 L362.04,42.9 L362.14,53.1 L362.24,45.8 L362.34,45.8 L362.44,41.4 L362.54,47.8 L362.64,50.6 L362.75,46.4 L362.85,43.7 L362.95,43.0 L363.05,40.9 L363.15,43.9 L363.25,36.5 L363.35,40.0 L363.45,40.9 L363.55,49.7 L363.65,48.7 L363.75,44.3 L363.85,31.0 L363.95,46.6 L364.05,50.3 L364.16,52.6 L364.26,51.5 L364.36,45.4 L364.46,48.3 L364.56,37.6 L364.66,57.5 L364.76,50.7 L364.86,44.4 L364.96,48.4 L365.06,49.2 L365.16,41.4 L365.26,45.9 L365.36,44.8 L365.46,42.7 L365.56,46.3 L365.67,43.3 L365.77,46.8 L365.87,46.9 L365.97,46.0 L366.07,44.7 L366.17,50.3 L366.27,44.2 L366.37,44.6 L366.47,41.6 L366.57,40.1 L366.67,41.9 L366.77,44.7 L366.87,41.8 L366.97,41.2 L367.07,35.3 L367.17,43.5 L367.27,39.9 L367.37,52.3 L367.47,48.7 L367.57,51.7 L367.67,44.7 L367.77,39.5 L367.87,55.9 L367.98,47.5 L368.08,44.1 L368.18,45.5 L368.28,36.2 L368.38,47.2 L368.48,38.4 L368.58,44.1 L368.68,47.4 L368.78,44.6 L368.88,47.4 L368.98,47.0 L369.08,41.7 L369.18,43.6 L369.28,45.7 L369.38,45.1 L369.48,48.1 L369.58,50.1 L369.69,54.4 L369.79,58.6 L369.89,42.7 L369.99,61.2 L370.09,52.9 L370.19,54.5 L370.29,46.4 L370.40,52.2 L370.50,47.4 L370.60,49.3 L370.70,44.0 L370.80,53.9 L370.90,49.3 L371.00,52.7 L371.10,48.9 L371.21,50.9 L371.31,49.8 L371.41,48.1 L371.51,55.4 L371.61,49.6 L371.71,40.9 L371.81,44.8 L371.92,47.4 L372.02,64.0 L372.12,54.0 L372.22,46.7 L372.32,49.3 L372.42,47.9 L372.52,50.5 L372.62,57.7 L372.73,47.7 L372.83,47.4 L372.93,61.2 L373.03,47.9 L373.13,54.4 L373.23,46.8 L373.33,48.0 L373.44,51.8 L373.54,49.1 L373.64,55.2 L373.74,51.1 L373.84,50.3 L373.94,48.6 L374.04,48.8 L374.14,49.0 L374.25,58.3 L374.35,56.9 L374.45,56.1 L374.55,49.4 L374.65,53.5 L374.75,59.9 L374.85,50.4 L374.96,50.0 L375.06,42.6 L375.16,52.8 L375.26,55.1 L375.36,51.0 L375.46,59.0 L375.56,49.0 L375.66,53.1 L375.76,55.8 L375.86,52.9 L375.96,60.0 L376.06,56.7 L376.16,51.2 L376.26,52.3 L376.36,38.6 L376.46,52.1 L376.56,57.5 L376.66,51.0 L376.76,51.0 L376.86,64.0 L376.96,47.3 L377.06,49.9 L377.16,47.9 L377.26,48.5 L377.36,48.7 L377.46,59.0 L377.56,53.5 L377.66,50.7 L377.76,54.6 L377.86,51.8 L377.96,52.0 L378.06,53.9 L378.16,56.7 L378.26,50.8 L378.36,46.0 L378.46,58.5 L378.56,58.1 L378.66,59.3 L378.76,52.4 L378.86,52.6 L378.96,55.7 L379.06,48.8 L379.16,50.2 L379.26,47.7 L379.36,46.3 L379.46,42.8 L379.56,44.5 L379.66,51.6 L379.76,44.4 L379.86,42.1 L379.96,48.3 L380.06,55.1 L380.16,49.8 L380.26,50.8 L380.36,54.0 L380.46,43.3 L380.56,45.9 L380.66,53.1 L380.76,49.8 L380.86,42.8 L380.96,44.6 L381.07,42.7 L381.17,45.4 L381.28,49.7 L381.38,45.9 L381.48,37.1 L381.59,47.8 L381.69,43.2 L381.79,45.6 L381.90,46.1 L382.00,61.1 L382.11,50.8 L382.21,41.7 L382.31,40.5 L382.42,48.5 L382.52,42.3 L382.62,41.1 L382.73,40.7 L382.83,46.8 L382.94,42.2 L383.04,32.6 L383.14,40.9 L383.24,43.0 L383.34,35.7 L383.44,36.2 L383.54,31.2 L383.64,36.0 L383.74,42.3 L383.84,33.4 L383.94,41.5 L384.04,37.9 L384.14,35.3 L384.24,42.6 L384.34,35.7 L384.44,38.8 L384.54,39.2 L384.64,43.2 L384.74,36.0 L384.84,39.8 L384.94,38.0 L385.04,38.1 L385.14,47.2 L385.24,62.2 L385.34,46.0 L385.44,39.8 L385.54,40.7 L385.65,36.7 L385.75,39.4 L385.85,46.2 L385.95,39.0 L386.05,36.6 L386.15,41.2 L386.25,35.2 L386.35,43.2 L386.45,39.2 L386.55,41.2 L386.65,38.4 L386.75,42.8 L386.85,43.7 L386.95,44.7 L387.05,37.4 L387.15,48.6 L387.25,48.8 L387.35,52.2 L387.45,47.3 L387.55,41.6 L387.65,42.7 L387.75,39.0 L387.85,34.8 L387.95,44.1 L388.05,39.4 L388.15,43.8 L388.26,50.7 L388.36,42.9 L388.46,39.5 L388.56,34.3 L388.66,38.3 L388.76,39.8 L388.86,33.3 L388.96,42.6 L389.06,39.0 L389.16,39.1 L389.26,39.0 L389.36,44.4 L389.46,44.9 L389.56,41.8 L389.67,41.4 L389.77,41.2 L389.87,32.7 L389.97,42.2 L390.07,48.9 L390.17,36.5 L390.27,32.0 L390.37,43.6 L390.47,38.0 L390.57,41.9 L390.67,42.9 L390.77,31.0 L390.87,45.8 L390.97,43.6 L391.08,43.5 L391.18,38.1 L391.28,38.6 L391.38,33.4 L391.48,35.8 L391.58,32.4 L391.68,39.7 L391.78,39.7 L391.88,43.0 L391.98,41.4 L392.08,31.0 L392.18,42.0 L392.28,45.8 L392.38,39.2 L392.49,49.8 L392.59,50.3 L392.69,55.0 L392.79,49.7 L392.89,44.1 L392.99,49.5 L393.09,50.1 L393.19,50.7 L393.29,45.6 L393.39,52.0 L393.49,52.6 L393.59,46.5 L393.69,47.1 L393.79,46.2 L393.89,47.2 L394.00,50.4 L394.10,39.6 L394.20,52.4 L394.30,52.7 L394.40,54.6 L394.50,49.1 L394.60,43.8 L394.70,49.2 L394.80,46.5 L394.90,39.8 L395.00,46.7 L395.10,53.8 L395.20,40.4 L395.31,44.6 L395.41,51.0 L395.51,44.1 L395.61,54.4 L395.71,45.5 L395.81,46.2 L395.91,40.5 L396.01,49.3 L396.11,43.6 L396.21,38.0 L396.31,47.2 L396.42,59.1 L396.52,52.9 L396.62,56.0 L396.72,48.5 L396.82,42.1 L396.92,49.3 L397.02,48.3 L397.13,48.8 L397.23,50.2 L397.33,45.3 L397.43,49.5 L397.53,57.8 L397.63,49.8 L397.73,52.9 L397.84,52.7 L397.94,50.9 L398.04,47.6 L398.14,55.1 L398.24,46.9 L398.34,50.3 L398.44,53.0 L398.55,51.0 L398.65,55.8 L398.75,51.6 L398.85,53.4 L398.95,39.8 L399.05,44.9 L399.15,48.3 L399.25,47.3 L399.36,39.2 L399.46,50.0 L399.56,46.8 L399.66,47.3 L399.76,51.2 L399.86,40.0 L399.96,54.3 L400.06,52.3 L400.17,47.2 L400.27,48.1 L400.37,47.6 L400.47,42.1 L400.57,36.6 L400.67,44.7 L400.77,45.2 L400.87,52.4 L400.97,50.9 L401.08,31.9 L401.18,45.9 L401.28,46.9 L401.38,43.9 L401.48,43.0 L401.58,44.2 L401.68,40.5 L401.78,41.0 L401.89,44.0 L401.99,53.4 L402.09,45.2 L402.19,43.7 L402.29,41.1 L402.39,48.3 L402.49,57.7 L402.59,48.1 L402.69,52.0 L402.79,44.5 L402.89,40.8 L402.99,52.9 L403.09,47.6 L403.19,45.3 L403.29,51.0 L403.39,40.3 L403.49,45.5 L403.59,48.2 L403.69,40.1 L403.79,49.4 L403.89,43.3 L403.99,51.7 L404.09,48.9 L404.19,53.8 L404.29,49.0 L404.39,49.1 L404.49,39.0 L404.59,49.6 L404.69,47.6 L404.79,42.2 L404.89,46.0 L404.99,49.1 L405.09,53.6 L405.19,41.8 L405.29,45.5 L405.39,48.2 L405.49,52.5 L405.59,46.1 L405.69,48.7 L405.79,40.7 L405.89,42.5 L405.99,54.9 L406.09,41.9 L406.19,46.4 L406.29,47.2 L406.39,48.2 L406.49,44.1 L406.59,46.9 L406.69,47.6 L406.79,53.8 L406.89,52.5 L406.99,53.7 L407.10,37.4 L407.20,41.6 L407.30,41.1 L407.40,46.4 L407.50,42.6 L407.60,38.6 L407.71,34.8 L407.81,41.5 L407.91,38.9 L408.01,31.0 L408.11,36.6 L408.21,35.9 L408.31,35.3 L408.42,42.6 L408.52,42.5 L408.62,41.7 L408.72,49.5 L408.82,43.1 L408.92,39.9 L409.02,40.2 L409.12,43.2 L409.23,37.8 L409.33,41.0 L409.43,36.4 L409.53,44.5 L409.63,32.6 L409.73,35.8 L409.83,41.0 L409.93,49.2 L410.04,42.3 L410.14,31.0 L410.24,43.9 L410.34,39.6 L410.44,40.5 L410.54,36.9 L410.64,37.0 L410.74,36.1 L410.84,32.1 L410.95,43.6 L411.05,37.5 L411.15,31.0 L411.25,36.6 L411.35,37.3 L411.45,44.1 L411.55,40.9 L411.65,42.1 L411.76,41.0 L411.86,37.2 L411.96,31.0 L412.06,34.4 L412.16,46.7 L412.26,41.3 L412.36,41.1 L412.46,41.3 L412.56,34.8 L412.67,41.9 L412.77,35.5 L412.87,31.0 L412.97,49.4 L413.07,48.5 L413.17,40.6 L413.27,43.8 L413.37,41.7 L413.47,42.2 L413.57,37.2 L413.67,53.8 L413.77,47.3 L413.88,50.4 L413.98,36.9 L414.08,41.0 L414.18,35.6 L414.28,39.0 L414.38,40.3 L414.48,48.5 L414.58,35.3 L414.68,56.3 L414.78,45.7 L414.88,43.6 L414.98,47.6 L415.08,42.8 L415.18,45.7 L415.28,47.8 L415.39,46.0 L415.49,43.9 L415.59,34.2 L415.69,36.7 L415.79,38.6 L415.89,40.1 L415.99,37.3 L416.09,47.1 L416.19,40.3 L416.29,39.9 L416.39,36.3 L416.49,44.8 L416.59,45.4 L416.69,34.8 L416.79,36.8 L416.90,43.2 L417.00,41.7 L417.10,41.3 L417.20,39.8 L417.30,39.6 L417.40,36.0 L417.50,44.4 L417.60,42.3 L417.70,43.0 L417.80,42.0 L417.90,44.6 L418.00,38.6 L418.10,43.3 L418.20,41.7 L418.31,39.0 L418.41,37.8 L418.51,41.4 L418.61,39.6 L418.71,42.0 L418.81,36.8 L418.91,45.5 L419.01,46.2 L419.11,31.0 L419.21,40.0 L419.31,48.4 L419.41,41.9 L419.51,52.9 L419.61,42.1 L419.71,42.4 L419.81,48.7 L419.91,41.3 L420.01,44.3 L420.12,44.2 L420.22,41.5 L420.32,39.5 L420.42,40.1 L420.52,42.6 L420.62,46.1 L420.72,42.1 L420.82,36.6 L420.92,41.0 L421.02,33.3 L421.12,48.6 L421.22,46.7 L421.32,42.5 L421.42,40.7 L421.52,43.7 L421.62,38.6 L421.72,39.3 L421.82,43.4 L421.92,45.1 L422.02,44.8 L422.12,46.1 L422.22,51.6 L422.32,50.2 L422.42,43.5 L422.53,49.6 L422.63,35.7 L422.73,46.3 L422.83,45.5 L422.93,42.5 L423.03,33.5 L423.13,45.9 L423.23,46.3 L423.33,44.6 L423.43,36.9 L423.54,35.0 L423.64,36.8 L423.75,38.0 L423.85,40.2 L423.96,41.8 L424.06,39.1 L424.17,43.3 L424.27,33.3 L424.38,39.6 L424.48,38.4 L424.59,45.5 L424.69,39.7 L424.80,31.0 L424.90,37.0 L425.01,43.4 L425.11,56.1 L425.21,53.3 L425.31,50.9 L425.42,50.4 L425.52,47.5 L425.62,51.8 L425.73,42.6 L425.83,41.5 L425.93,45.0 L426.04,44.9 L426.14,60.0 L426.24,48.1 L426.34,38.1 L426.45,47.8 L426.55,46.7 L426.65,47.2 L426.76,49.7 L426.86,48.7 L426.96,53.3 L427.07,50.8 L427.17,59.0 L427.27,51.6 L427.38,45.1 L427.48,44.0 L427.58,59.5 L427.68,47.6 L427.79,52.2 L427.89,47.4 L427.99,45.7 L428.09,41.5 L428.20,43.6 L428.30,43.3 L428.40,52.5 L428.50,50.1 L428.60,41.9 L428.70,46.3 L428.81,42.5 L428.91,39.6 L429.01,40.9 L429.11,37.8 L429.21,45.4 L429.32,42.8 L429.42,39.5 L429.52,40.0 L429.62,40.7 L429.72,47.5 L429.83,43.1 L429.93,46.8 L430.03,50.2 L430.14,51.1 L430.24,44.0 L430.34,40.0 L430.45,41.3 L430.55,41.8 L430.65,49.2 L430.76,49.6 L430.86,40.9 L430.96,46.1 L431.07,41.3 L431.17,43.3 L431.27,51.1 L431.38,45.4 L431.48,45.2 L431.58,45.9 L431.69,49.2 L431.79,48.9 L431.89,48.9 L432.00,45.9 L432.10,36.7 L432.20,31.0 L432.30,45.2 L432.40,31.0" fill="none" stroke="#f0961f" stroke-width="0.95" stroke-linejoin="round" opacity="1"/>
<line x1="184" y1="128" x2="184" y2="67" stroke="#f5c17f" stroke-width="0.7"/>
<line x1="296" y1="95" x2="296" y2="33" stroke="#f5c17f" stroke-width="0.7"/>
<path d="M168.00,239.2 L168.12,233.1 L168.25,236.1 L168.38,239.5 L168.50,235.4 L168.62,240.5 L168.75,235.1 L168.88,237.5 L169.00,226.8 L169.12,235.6 L169.25,238.2 L169.38,238.2 L169.50,242.0 L169.62,240.2 L169.75,236.5 L169.88,238.7 L170.00,237.3 L170.12,240.1 L170.25,237.3 L170.38,242.7 L170.50,238.0 L170.62,234.5 L170.75,236.5 L170.88,231.9 L171.00,236.6 L171.12,239.5 L171.25,232.6 L171.38,241.3 L171.50,225.2 L171.63,227.0 L171.75,231.9 L171.88,229.7 L172.00,220.8 L172.13,223.8 L172.26,232.9 L172.38,234.9 L172.51,224.9 L172.63,227.6 L172.76,233.8 L172.89,228.0 L173.01,233.8 L173.14,221.7 L173.27,226.2 L173.39,226.8 L173.52,232.0 L173.64,228.9 L173.77,216.1 L173.90,235.1 L174.02,231.5 L174.15,231.1 L174.27,232.4 L174.40,211.5 L174.53,210.1 L174.65,215.2 L174.78,213.0 L174.90,218.9 L175.03,214.0 L175.15,205.0 L175.28,219.1 L175.40,219.1 L175.53,216.6 L175.65,216.4 L175.78,213.1 L175.90,216.4 L176.03,218.3 L176.15,208.8 L176.28,216.4 L176.40,222.1 L176.53,228.1 L176.65,209.9 L176.78,211.0 L176.90,212.6 L177.03,212.3 L177.15,212.4 L177.28,212.7 L177.41,208.6 L177.53,210.6 L177.66,211.1 L177.78,213.2 L177.91,209.1 L178.03,211.2 L178.16,219.1 L178.28,214.7 L178.41,205.0 L178.53,214.5 L178.66,205.1 L178.78,214.0 L178.91,211.2 L179.03,211.4 L179.16,209.2 L179.28,205.0 L179.41,210.2 L179.53,206.7 L179.66,211.7 L179.78,205.0 L179.91,208.3 L180.03,219.0 L180.16,215.0 L180.29,220.8 L180.41,214.4 L180.54,213.0 L180.66,215.9 L180.79,217.0 L180.91,205.0 L181.04,211.3 L181.16,212.4 L181.29,209.9 L181.41,217.8 L181.54,215.6 L181.66,213.8 L181.79,205.0 L181.91,215.3 L182.04,214.7 L182.16,210.4 L182.29,212.6 L182.41,222.2 L182.54,209.5 L182.66,216.6 L182.79,214.1 L182.91,216.5 L183.04,217.8 L183.17,213.4 L183.29,210.7 L183.42,212.9 L183.54,221.7 L183.67,212.3 L183.79,220.2 L183.92,219.1 L184.04,215.1 L184.17,216.7 L184.29,218.3 L184.42,214.5 L184.54,229.2 L184.67,211.5 L184.79,210.2 L184.92,219.5 L185.04,219.4 L185.17,215.9 L185.29,216.5 L185.42,213.0 L185.54,220.9 L185.67,215.9 L185.79,217.3 L185.92,210.3 L186.05,219.5 L186.17,216.7 L186.30,219.7 L186.42,215.1 L186.55,212.7 L186.67,223.0 L186.80,223.3 L186.92,218.8 L187.05,215.7 L187.17,216.2 L187.30,214.8 L187.42,222.5 L187.55,212.2 L187.67,218.8 L187.80,215.2 L187.92,214.4 L188.05,216.1 L188.17,216.0 L188.30,206.8 L188.42,210.5 L188.55,211.1 L188.67,212.2 L188.80,234.9 L188.93,228.5 L189.05,234.7 L189.18,235.5 L189.30,230.2 L189.43,219.4 L189.55,232.7 L189.68,237.4 L189.80,229.3 L189.93,234.1 L190.05,214.6 L190.18,237.7 L190.30,233.5 L190.43,235.9 L190.55,239.6 L190.68,240.6 L190.81,224.3 L190.93,233.1 L191.06,230.9 L191.18,220.5 L191.31,229.4 L191.43,229.3 L191.56,224.5 L191.68,232.4 L191.81,229.4 L191.93,225.0 L192.06,234.0 L192.18,233.7 L192.31,228.8 L192.43,243.2 L192.56,238.8 L192.69,228.1 L192.81,232.1 L192.94,235.9 L193.06,225.0 L193.19,228.1 L193.31,227.8 L193.44,221.5 L193.56,226.0 L193.69,230.4 L193.81,232.1 L193.94,231.3 L194.06,232.3 L194.19,236.1 L194.31,229.0 L194.44,228.4 L194.57,227.7 L194.69,227.9 L194.82,228.3 L194.94,222.3 L195.07,237.7 L195.19,227.8 L195.32,236.6 L195.44,229.6 L195.57,236.9 L195.69,234.1 L195.82,233.4 L195.94,231.4 L196.07,236.2 L196.19,227.3 L196.32,237.0 L196.45,232.8 L196.57,222.1 L196.70,234.8 L196.82,225.3 L196.95,226.1 L197.07,223.1 L197.20,237.7 L197.32,218.1 L197.45,226.4 L197.57,238.1 L197.70,236.7 L197.82,213.0 L197.95,226.2 L198.07,220.1 L198.20,227.1 L198.33,222.9 L198.45,230.1 L198.58,231.5 L198.70,236.9 L198.83,228.2 L198.95,236.7 L199.08,237.9 L199.20,223.8 L199.33,237.2 L199.45,238.4 L199.58,235.5 L199.70,235.4 L199.83,233.4 L199.95,228.6 L200.08,233.0 L200.21,215.6 L200.33,239.6 L200.46,242.3 L200.58,232.6 L200.71,225.7 L200.83,235.9 L200.96,226.8 L201.08,236.4 L201.21,228.5 L201.33,235.3 L201.46,237.4 L201.58,227.4 L201.71,237.6 L201.83,232.8 L201.96,226.5 L202.09,225.3 L202.21,233.2 L202.34,237.4 L202.46,230.9 L202.59,236.8 L202.71,242.4 L202.84,236.6 L202.96,232.0 L203.09,227.3 L203.21,234.9 L203.34,229.2 L203.46,236.9 L203.59,230.0 L203.71,232.0 L203.84,223.9 L203.97,239.0 L204.09,235.5 L204.22,219.7 L204.34,225.4 L204.47,230.9 L204.59,241.5 L204.72,230.7 L204.84,235.2 L204.97,229.7 L205.09,236.2 L205.22,231.6 L205.34,226.9 L205.47,236.2 L205.59,211.3 L205.72,236.6 L205.85,236.4 L205.97,240.4 L206.10,231.8 L206.22,227.7 L206.35,231.9 L206.47,232.3 L206.60,238.7 L206.72,232.6 L206.85,233.3 L206.97,233.2 L207.10,232.2 L207.22,239.2 L207.35,233.1 L207.47,232.4 L207.60,220.0 L207.73,216.3 L207.85,219.4 L207.98,222.1 L208.10,217.2 L208.23,219.0 L208.36,222.3 L208.48,217.4 L208.61,216.8 L208.73,220.4 L208.86,219.6 L208.99,218.7 L209.11,213.3 L209.24,221.2 L209.36,210.8 L209.49,213.0 L209.61,226.4 L209.74,222.3 L209.87,223.9 L209.99,221.8 L210.12,218.0 L210.24,211.8 L210.37,218.3 L210.50,218.8 L210.62,216.0 L210.75,221.5 L210.87,213.3 L211.00,237.7 L211.12,233.7 L211.25,234.9 L211.38,234.0 L211.50,231.2 L211.62,227.9 L211.75,239.5 L211.88,245.0 L212.00,234.5 L212.12,234.5 L212.25,239.0 L212.38,226.4 L212.50,233.0 L212.62,226.7 L212.75,231.3 L212.88,231.6 L213.00,222.6 L213.12,227.4 L213.25,229.3 L213.38,234.6 L213.50,235.0 L213.62,227.9 L213.75,241.6 L213.88,232.8 L214.00,233.6 L214.12,235.2 L214.25,234.2 L214.38,230.3 L214.50,226.1 L214.62,238.0 L214.75,232.5 L214.88,237.9 L215.00,241.8 L215.12,235.7 L215.25,237.0 L215.38,236.4 L215.50,239.8 L215.62,240.4 L215.75,230.5 L215.88,236.3 L216.00,237.4 L216.12,236.2 L216.25,235.7 L216.38,235.0 L216.50,231.2 L216.62,232.5 L216.75,237.6 L216.88,241.9 L217.00,231.6 L217.12,239.8 L217.25,237.5 L217.38,243.7 L217.50,242.1 L217.62,246.7 L217.75,236.0 L217.88,233.3 L218.00,244.5 L218.12,235.2 L218.25,235.1 L218.38,228.0 L218.50,232.7 L218.62,236.9 L218.75,230.2 L218.88,227.7 L219.00,215.8 L219.12,223.4 L219.25,214.5 L219.38,216.5 L219.50,221.0 L219.62,216.3 L219.75,218.9 L219.88,224.0 L220.00,216.7 L220.12,213.8 L220.25,214.0 L220.38,211.9 L220.50,215.3 L220.62,216.2 L220.75,214.9 L220.88,223.1 L221.00,218.6 L221.12,211.6 L221.25,217.4 L221.38,205.8 L221.50,213.4 L221.62,218.3 L221.75,213.8 L221.88,210.1 L222.00,208.6 L222.12,213.2 L222.25,218.4 L222.38,208.8 L222.50,216.3 L222.62,216.6 L222.75,221.6 L222.88,212.6 L223.00,216.8 L223.12,210.4 L223.25,220.9 L223.38,225.0 L223.50,212.6 L223.62,214.5 L223.75,212.1 L223.88,220.8 L224.00,214.1 L224.12,210.1 L224.25,210.4 L224.38,214.3 L224.50,213.3 L224.62,208.4 L224.75,213.1 L224.88,205.0 L225.00,211.8 L225.12,224.2 L225.25,217.2 L225.38,212.7 L225.50,214.1 L225.62,215.6 L225.75,215.8 L225.88,211.3 L226.00,209.5 L226.12,212.2 L226.25,222.7 L226.38,217.0 L226.50,212.7 L226.62,214.7 L226.75,213.6 L226.88,222.0 L227.00,219.0 L227.12,216.2 L227.25,215.4 L227.38,206.6 L227.50,212.5 L227.62,212.7 L227.75,219.1 L227.88,228.8 L228.00,205.0 L228.12,217.2 L228.25,208.7 L228.38,205.0 L228.50,222.5 L228.62,218.6 L228.75,206.0 L228.88,212.8 L229.00,216.3 L229.12,210.9 L229.25,207.5 L229.38,218.2 L229.50,218.3 L229.62,215.3 L229.75,211.1 L229.88,211.3 L230.00,211.2 L230.12,215.5 L230.25,224.6 L230.38,215.1 L230.50,209.6 L230.62,214.0 L230.75,213.3 L230.88,220.6 L231.00,216.2 L231.12,218.6 L231.25,211.5 L231.38,217.7 L231.50,216.5 L231.62,214.5 L231.75,213.9 L231.88,225.1 L232.00,219.6 L232.12,213.6 L232.25,215.2 L232.38,216.0 L232.50,215.8 L232.62,214.2 L232.75,215.6 L232.88,216.8 L233.00,220.1 L233.12,207.9 L233.25,217.4 L233.38,213.5 L233.50,219.8 L233.62,217.8 L233.75,211.6 L233.88,225.5 L234.00,220.1 L234.12,215.2 L234.25,208.7 L234.38,222.4 L234.50,219.9 L234.62,221.5 L234.75,219.3 L234.88,205.0 L235.00,214.5 L235.12,217.9 L235.25,221.4 L235.38,211.0 L235.50,221.5 L235.62,222.5 L235.75,216.7 L235.88,216.7 L236.00,228.7 L236.12,217.8 L236.25,220.6 L236.38,213.3 L236.50,214.5 L236.62,216.5 L236.75,216.2 L236.88,218.9 L237.00,220.6 L237.12,213.7 L237.25,215.8 L237.38,218.7 L237.50,214.4 L237.62,220.4 L237.75,228.2 L237.88,212.7 L238.00,229.8 L238.12,240.8 L238.25,236.1 L238.38,238.1 L238.50,243.4 L238.62,239.3 L238.75,239.5 L238.88,231.4 L239.00,234.1 L239.12,236.0 L239.25,243.5 L239.38,228.3 L239.50,229.4 L239.62,229.9 L239.75,232.7 L239.88,235.5 L240.00,238.4 L240.12,233.8 L240.25,230.5 L240.38,235.4 L240.50,241.4 L240.62,247.7 L240.75,235.9 L240.88,231.6 L241.00,234.3 L241.12,232.9 L241.25,247.6 L241.38,233.2 L241.50,237.6 L241.62,230.7 L241.75,229.1 L241.88,210.1 L242.00,239.0 L242.12,232.5 L242.25,239.7 L242.38,231.5 L242.50,234.9 L242.62,230.5 L242.75,232.2 L242.88,228.5 L243.00,233.0 L243.12,235.2 L243.25,229.3 L243.38,234.9 L243.50,232.6 L243.62,238.5 L243.75,237.6 L243.88,235.3 L244.00,225.3 L244.12,238.3 L244.25,233.8 L244.38,238.1 L244.50,229.3 L244.62,232.9 L244.75,238.1 L244.88,230.8 L245.00,232.0 L245.12,237.2 L245.25,217.4 L245.38,233.6 L245.50,223.8 L245.62,237.8 L245.75,233.9 L245.88,226.5 L246.00,225.6 L246.12,239.2 L246.25,237.5 L246.38,232.5 L246.50,240.7 L246.62,238.6 L246.75,228.5 L246.88,237.3 L247.00,234.7 L247.12,250.2 L247.25,235.8 L247.38,235.1 L247.50,236.6 L247.62,237.5 L247.75,228.1 L247.88,224.8 L248.00,233.9 L248.12,232.4 L248.25,233.3 L248.38,227.9 L248.50,227.4 L248.62,237.5 L248.75,229.4 L248.88,240.2 L249.00,235.2 L249.12,237.4 L249.25,234.1 L249.38,232.7 L249.50,232.4 L249.62,233.9 L249.75,232.4 L249.88,227.5 L250.00,232.7 L250.12,234.2 L250.25,224.3 L250.38,238.5 L250.50,229.8 L250.62,245.0 L250.75,232.0 L250.88,234.4 L251.00,243.2 L251.12,231.4 L251.25,256.0 L251.38,244.7 L251.50,240.7 L251.62,249.6 L251.75,250.6 L251.88,243.8 L252.00,231.2 L252.12,222.5 L252.25,252.3 L252.38,247.0 L252.50,243.7 L252.62,249.8 L252.75,252.1 L252.88,245.8 L253.00,247.0 L253.12,247.9 L253.25,255.5 L253.38,262.0 L253.50,243.3 L253.62,250.9 L253.75,246.7 L253.88,254.7 L254.00,248.5 L254.12,247.1 L254.25,248.4 L254.38,249.2 L254.50,248.2 L254.62,250.0 L254.75,250.9 L254.88,251.2 L255.00,246.9 L255.12,248.8 L255.25,251.2 L255.38,244.2 L255.50,247.1 L255.62,247.0 L255.75,247.5 L255.88,247.5 L256.00,243.1 L256.12,247.9 L256.25,244.3 L256.38,247.4 L256.50,249.3 L256.62,250.4 L256.75,249.7 L256.88,249.9 L257.00,248.7 L257.12,248.5 L257.25,252.7 L257.38,248.6 L257.50,241.5 L257.62,253.3 L257.75,244.4 L257.88,248.4 L258.00,248.4 L258.12,248.0 L258.25,247.3 L258.38,239.5 L258.50,240.2 L258.62,247.9 L258.75,243.9 L258.88,244.0 L259.00,248.1 L259.12,245.0 L259.25,245.4 L259.38,237.9 L259.50,241.8 L259.62,247.9 L259.75,249.6 L259.88,250.0 L260.00,249.0 L260.12,246.4 L260.25,245.8 L260.38,246.6 L260.50,242.1 L260.62,252.3 L260.75,248.4 L260.88,242.3 L261.00,233.3 L261.12,239.5 L261.25,244.9 L261.38,251.1 L261.50,247.7 L261.62,252.5 L261.75,239.1 L261.88,248.0 L262.00,251.7 L262.12,245.9 L262.25,245.3 L262.38,241.9 L262.50,250.4 L262.62,250.6 L262.75,249.5 L262.88,250.0 L263.00,242.7 L263.12,255.0 L263.25,250.3 L263.38,252.4 L263.50,250.0 L263.62,238.5 L263.75,244.5 L263.88,248.1 L264.00,248.3 L264.12,249.8 L264.25,247.0 L264.38,253.8 L264.50,241.8 L264.62,241.8 L264.75,248.6 L264.88,247.9 L265.00,245.0 L265.12,243.5 L265.25,249.1 L265.38,248.3 L265.50,251.9 L265.62,252.3 L265.75,243.7 L265.88,244.7 L266.00,245.5 L266.12,262.0 L266.25,246.9 L266.38,246.0 L266.50,243.5 L266.62,250.5 L266.75,247.1 L266.88,248.2 L267.00,241.0 L267.12,234.8 L267.25,244.3 L267.38,251.4 L267.50,248.0 L267.62,249.1 L267.75,248.8 L267.88,242.8 L268.00,249.5 L268.12,247.7 L268.25,241.5 L268.38,245.9 L268.50,246.6 L268.62,242.8 L268.75,240.2 L268.88,237.5 L269.00,248.9 L269.12,247.1 L269.25,232.5 L269.38,242.7 L269.50,242.9 L269.62,247.7 L269.75,254.3 L269.88,234.1 L270.00,238.7 L270.12,243.6 L270.25,244.5 L270.38,248.2 L270.50,247.7 L270.62,244.5 L270.75,236.6 L270.88,232.4 L271.00,250.6 L271.12,239.0 L271.25,249.5 L271.38,246.4 L271.50,243.4 L271.62,251.2 L271.75,249.4 L271.88,246.9 L272.00,248.3 L272.12,231.0 L272.25,244.0 L272.38,247.3 L272.50,249.2 L272.62,248.7 L272.75,247.9 L272.88,235.7 L273.00,248.0 L273.12,254.4 L273.25,248.9 L273.38,245.4 L273.50,243.0 L273.62,248.1 L273.75,252.8 L273.88,247.4 L274.00,247.8 L274.12,246.3 L274.25,251.8 L274.38,253.8 L274.50,256.9 L274.62,250.2 L274.75,250.4 L274.88,252.0 L275.00,248.1 L275.12,250.0 L275.25,254.0 L275.38,251.1 L275.50,244.2 L275.62,233.3 L275.75,248.0 L275.88,248.9 L276.00,245.3 L276.12,246.5 L276.25,247.6 L276.38,243.0 L276.50,248.6 L276.62,251.5 L276.75,247.4 L276.88,248.6 L277.00,250.2 L277.12,237.4 L277.25,244.6 L277.38,246.7 L277.50,243.4 L277.62,248.2 L277.75,247.1 L277.88,250.1 L278.00,242.6 L278.12,240.3 L278.25,247.2 L278.38,244.2 L278.50,252.4 L278.62,248.1 L278.75,243.5 L278.88,262.0 L279.00,242.8 L279.12,262.0 L279.25,240.8 L279.38,248.8 L279.50,253.8 L279.62,244.4 L279.75,241.4 L279.88,248.0 L280.00,241.9 L280.12,247.3 L280.25,249.4 L280.38,242.6 L280.50,237.2 L280.62,245.5 L280.75,248.8 L280.88,248.4 L281.00,244.9 L281.12,251.9 L281.25,248.7 L281.38,256.9 L281.50,244.7 L281.62,246.6 L281.75,247.6 L281.88,246.1 L282.00,243.6 L282.12,249.6 L282.25,234.8 L282.38,249.5 L282.50,250.0 L282.62,244.1 L282.75,251.5 L282.88,245.3 L283.00,248.0 L283.12,247.5 L283.25,262.0 L283.38,249.1 L283.50,252.8 L283.62,238.8 L283.75,246.5 L283.88,242.6 L284.00,239.5 L284.12,224.6 L284.25,241.2 L284.38,250.2 L284.50,249.2 L284.62,245.1 L284.75,244.4 L284.88,250.1 L285.00,243.9 L285.12,250.4 L285.25,243.8 L285.38,237.3 L285.50,237.4 L285.62,245.1 L285.75,241.2 L285.88,242.3 L286.00,241.7 L286.12,237.9 L286.25,245.2 L286.38,242.1 L286.50,243.2 L286.62,243.0 L286.75,239.5 L286.88,240.7 L287.00,252.9 L287.12,244.9 L287.25,239.4 L287.38,245.4 L287.50,251.3 L287.62,240.3 L287.75,241.7 L287.88,244.2 L288.00,244.1 L288.12,246.6 L288.25,243.3 L288.38,243.7 L288.50,245.7 L288.62,244.9 L288.75,241.8 L288.88,238.3 L289.00,246.3 L289.12,237.5 L289.25,246.0 L289.38,247.3 L289.50,244.4 L289.62,229.6 L289.75,242.9 L289.88,243.6 L290.00,243.6 L290.12,243.8 L290.25,243.4 L290.38,250.0 L290.50,228.0 L290.62,240.3 L290.75,248.0 L290.88,245.9 L291.00,247.7 L291.12,245.0 L291.25,243.2 L291.38,249.4 L291.50,243.0 L291.62,247.1 L291.75,247.9 L291.88,245.2 L292.00,242.6 L292.12,238.5 L292.25,250.2 L292.38,240.0 L292.50,230.4 L292.62,243.6 L292.75,249.6 L292.88,244.4 L293.00,240.0 L293.12,245.5 L293.25,238.5 L293.38,249.2 L293.50,248.1 L293.62,254.2 L293.75,258.4 L293.88,254.7 L294.00,247.9 L294.12,262.0 L294.25,246.0 L294.38,245.9 L294.50,246.4 L294.62,246.3 L294.75,250.6 L294.88,246.9 L295.00,240.9 L295.12,249.3 L295.25,246.2 L295.38,247.2 L295.50,256.8 L295.62,245.4 L295.75,253.9 L295.88,248.3 L296.00,245.9 L296.12,230.1 L296.25,247.7 L296.38,250.1 L296.50,242.6 L296.62,260.9 L296.75,244.0 L296.88,245.4 L297.00,242.4 L297.12,246.2 L297.25,244.5 L297.38,244.3 L297.50,244.4 L297.62,246.2 L297.75,239.2 L297.88,252.9 L298.00,251.2 L298.12,254.9 L298.25,256.2 L298.38,256.0 L298.50,245.9 L298.62,243.7 L298.75,257.4 L298.88,246.6 L299.00,249.0 L299.12,250.3 L299.25,248.7 L299.38,254.9 L299.50,256.1 L299.62,246.8 L299.75,253.0 L299.88,248.3 L300.00,241.2 L300.12,254.3 L300.25,244.9 L300.38,245.4 L300.50,248.2 L300.62,244.5 L300.75,245.4 L300.88,239.7 L301.00,241.0 L301.12,246.6 L301.25,249.1 L301.38,248.6 L301.50,251.4 L301.62,251.1 L301.75,239.7 L301.88,233.7 L302.00,247.9 L302.12,236.1 L302.25,247.7 L302.38,242.3 L302.50,242.8 L302.62,239.6 L302.75,225.6 L302.88,246.7 L303.00,243.7 L303.12,240.3 L303.25,245.3 L303.38,243.8 L303.50,249.6 L303.62,243.9 L303.75,246.8 L303.88,249.0 L304.00,245.8 L304.12,248.7 L304.25,245.3 L304.38,249.2 L304.50,249.1 L304.62,244.1 L304.75,248.1 L304.88,240.9 L305.00,256.2 L305.12,249.9 L305.25,243.7 L305.38,251.4 L305.50,248.8 L305.62,253.7 L305.75,247.3 L305.88,248.7 L306.00,252.0 L306.12,244.3 L306.25,250.1 L306.38,252.5 L306.50,249.7 L306.62,236.7 L306.75,246.4 L306.88,245.7 L307.00,247.3 L307.12,246.8 L307.25,235.7 L307.38,243.9 L307.50,238.4 L307.62,243.8 L307.75,252.0 L307.88,240.4 L308.00,245.6 L308.12,247.5 L308.25,244.1 L308.38,246.5 L308.50,246.1 L308.62,242.2 L308.75,251.8 L308.88,247.6 L309.00,229.7 L309.13,240.1 L309.25,231.4 L309.38,233.8 L309.50,231.2 L309.63,232.7 L309.76,226.9 L309.88,241.6 L310.01,230.6 L310.13,234.1 L310.26,235.8 L310.39,232.7 L310.51,228.6 L310.64,239.1 L310.76,231.7 L310.89,229.5 L311.01,235.2 L311.14,234.2 L311.27,228.7 L311.39,231.6 L311.52,234.5 L311.64,229.5 L311.77,228.4 L311.90,232.4 L312.02,234.1 L312.15,230.5 L312.27,233.9 L312.40,235.9 L312.53,238.8 L312.65,229.8 L312.78,236.0 L312.90,231.3 L313.03,241.0 L313.16,239.6 L313.28,233.5 L313.41,235.4 L313.53,235.2 L313.66,243.6 L313.79,234.2 L313.91,237.5 L314.04,234.6 L314.16,233.5 L314.29,231.3 L314.41,234.2 L314.54,235.0 L314.67,238.6 L314.79,234.0 L314.92,229.4 L315.04,232.3 L315.17,240.1 L315.30,236.8 L315.42,244.5 L315.55,236.3 L315.67,229.9 L315.80,233.3 L315.93,233.4 L316.05,239.4 L316.18,235.7 L316.30,231.4 L316.43,238.7 L316.56,237.5 L316.68,238.8 L316.81,232.3 L316.93,228.5 L317.06,231.6 L317.19,230.2 L317.31,231.6 L317.44,231.4 L317.56,235.8 L317.69,231.6 L317.81,234.5 L317.94,235.8 L318.07,233.2 L318.19,231.4 L318.32,238.2 L318.44,226.7 L318.57,229.2 L318.70,230.3 L318.82,224.7 L318.95,228.4 L319.07,224.7 L319.20,231.8 L319.33,235.3 L319.45,232.8 L319.58,226.5 L319.70,226.6 L319.83,226.7 L319.96,221.4 L320.08,234.7 L320.21,225.6 L320.33,223.1 L320.46,229.6 L320.59,223.5 L320.71,231.0 L320.84,233.2 L320.96,230.0 L321.09,232.6 L321.21,234.7 L321.34,234.4 L321.47,252.3 L321.59,227.7 L321.72,237.2 L321.84,229.9 L321.97,238.1 L322.10,239.2 L322.22,233.8 L322.35,234.3 L322.47,230.4 L322.60,249.9 L322.73,253.1 L322.85,253.3 L322.98,250.8 L323.10,256.8 L323.23,247.3 L323.35,256.8 L323.48,248.1 L323.60,253.6 L323.73,242.1 L323.85,251.6 L323.98,257.7 L324.10,249.4 L324.23,252.7 L324.35,249.4 L324.48,248.6 L324.60,240.2 L324.73,250.2 L324.85,248.7 L324.98,249.3 L325.10,245.5 L325.23,248.8 L325.35,254.4 L325.48,251.5 L325.60,250.2 L325.73,249.9 L325.85,238.2 L325.98,246.0 L326.10,252.3 L326.23,250.1 L326.35,252.1 L326.48,245.2 L326.60,248.9 L326.73,245.3 L326.85,255.9 L326.98,247.0 L327.10,239.0 L327.23,256.5 L327.35,258.2 L327.48,241.4 L327.60,244.5 L327.73,250.6 L327.85,247.8 L327.98,237.6 L328.10,252.6 L328.23,249.9 L328.35,252.2 L328.48,236.0 L328.60,248.2 L328.73,247.6 L328.85,245.3 L328.98,256.8 L329.10,247.3 L329.23,249.8 L329.36,250.9 L329.48,249.3 L329.61,244.8 L329.73,248.4 L329.86,259.7 L329.98,260.5 L330.11,241.5 L330.23,255.2 L330.36,253.3 L330.48,239.8 L330.61,249.8 L330.73,255.1 L330.86,254.7 L330.98,252.9 L331.11,255.4 L331.23,247.0 L331.36,250.0 L331.48,254.6 L331.61,251.1 L331.73,247.9 L331.86,251.0 L331.98,247.3 L332.11,246.8 L332.23,250.4 L332.36,248.9 L332.48,252.1 L332.61,249.1 L332.73,255.5 L332.86,250.0 L332.98,248.2 L333.11,245.1 L333.23,248.5 L333.36,257.5 L333.48,248.7 L333.61,237.3 L333.73,254.7 L333.86,248.6 L333.98,248.5 L334.11,253.0 L334.23,243.5 L334.36,251.6 L334.48,251.6 L334.61,253.1 L334.73,251.4 L334.86,253.2 L334.98,249.3 L335.11,247.6 L335.23,249.0 L335.36,249.3 L335.48,259.3 L335.61,260.2 L335.73,256.0 L335.86,251.6 L335.99,249.1 L336.11,253.9 L336.24,249.0 L336.36,252.4 L336.49,253.9 L336.61,246.9 L336.74,251.3 L336.86,250.8 L336.99,258.0 L337.11,252.8 L337.24,251.7 L337.36,258.0 L337.49,251.6 L337.61,256.1 L337.74,256.2 L337.86,257.0 L337.99,252.3 L338.11,255.2 L338.24,244.0 L338.36,252.5 L338.49,256.4 L338.61,256.4 L338.74,258.5 L338.86,250.4 L338.99,248.0 L339.11,253.5 L339.24,249.3 L339.36,248.5 L339.49,249.1 L339.61,249.4 L339.74,256.4 L339.86,254.3 L339.99,252.1 L340.11,247.4 L340.24,256.0 L340.36,245.9 L340.49,234.6 L340.61,255.2 L340.74,262.0 L340.86,244.2 L340.99,253.7 L341.11,256.3 L341.24,244.2 L341.36,250.8 L341.49,252.6 L341.61,254.6 L341.74,251.2 L341.86,258.1 L341.99,256.1 L342.11,247.5 L342.24,250.7 L342.36,252.7 L342.49,254.4 L342.61,256.3 L342.74,241.6 L342.87,253.5 L342.99,246.0 L343.12,255.1 L343.24,253.1 L343.37,250.3 L343.49,242.3 L343.62,252.8 L343.74,244.4 L343.87,253.3 L343.99,256.4 L344.12,250.9 L344.24,249.9 L344.37,250.3 L344.49,254.1 L344.62,248.3 L344.74,254.7 L344.87,252.0 L344.99,257.3 L345.12,252.4 L345.24,253.6 L345.37,256.1 L345.49,253.7 L345.62,260.8 L345.74,262.0 L345.87,258.6 L345.99,250.1 L346.12,244.1 L346.24,248.5 L346.37,256.3 L346.49,252.5 L346.62,262.0 L346.74,255.9 L346.87,250.2 L346.99,245.1 L347.12,251.6 L347.24,251.0 L347.37,258.0 L347.49,251.3 L347.62,255.9 L347.74,261.2 L347.87,250.4 L347.99,247.7 L348.12,252.5 L348.24,250.7 L348.37,252.9 L348.49,257.1 L348.62,250.3 L348.74,259.4 L348.87,259.0 L348.99,256.0 L349.12,252.1 L349.24,254.9 L349.37,252.8 L349.50,249.1 L349.62,255.8 L349.75,255.6 L349.87,255.4 L350.00,259.2 L350.12,262.0 L350.25,235.3 L350.37,253.2 L350.50,243.7 L350.62,252.1 L350.75,255.5 L350.87,247.3 L351.00,246.9 L351.12,250.2 L351.25,252.7 L351.37,262.0 L351.50,256.9 L351.62,253.3 L351.75,254.5 L351.87,246.1 L352.00,246.6 L352.12,252.4 L352.25,243.3 L352.37,262.0 L352.50,244.2 L352.62,248.2 L352.75,254.5 L352.87,255.6 L353.00,255.9 L353.12,254.4 L353.25,249.9 L353.37,244.5 L353.50,247.4 L353.62,257.1 L353.75,250.6 L353.87,234.3 L354.00,253.0 L354.12,257.0 L354.25,262.0 L354.37,262.0 L354.50,256.8 L354.62,253.6 L354.75,256.0 L354.87,262.0 L355.00,254.0 L355.12,251.2 L355.25,257.2 L355.37,253.2 L355.50,245.3 L355.62,247.3 L355.75,259.7 L355.87,250.9 L356.00,236.8 L356.12,253.4 L356.25,219.6 L356.38,234.8 L356.50,231.5 L356.62,231.4 L356.75,230.7 L356.88,227.2 L357.00,232.2 L357.12,229.9 L357.25,228.8 L357.38,231.3 L357.50,236.8 L357.62,235.1 L357.75,234.9 L357.88,229.0 L358.00,230.8 L358.12,247.4 L358.25,239.2 L358.38,238.2 L358.50,227.7 L358.62,234.6 L358.75,233.6 L358.88,232.5 L359.00,233.6 L359.12,235.8 L359.25,231.1 L359.38,238.1 L359.50,242.2 L359.62,225.6 L359.75,238.0 L359.88,237.0 L360.00,233.5 L360.12,229.8 L360.25,231.5 L360.38,234.3 L360.50,232.0 L360.62,236.5 L360.75,233.9 L360.88,232.6 L361.00,232.0 L361.12,234.0 L361.25,233.3 L361.38,230.2 L361.50,234.7 L361.62,235.6 L361.75,244.6 L361.88,233.0 L362.00,234.8 L362.12,230.3 L362.25,234.2 L362.38,225.8 L362.50,235.7 L362.62,229.3 L362.75,230.3 L362.88,228.8 L363.00,227.9 L363.12,233.5 L363.25,235.9 L363.38,234.2 L363.50,237.4 L363.62,238.3 L363.75,230.4 L363.88,225.6 L364.00,233.9 L364.12,235.7 L364.25,236.4 L364.38,232.4 L364.50,223.2 L364.62,228.2 L364.75,236.7 L364.88,230.3 L365.00,229.5 L365.12,229.6 L365.25,230.8 L365.38,225.5 L365.50,235.6 L365.62,233.9 L365.75,232.7 L365.88,238.5 L366.00,245.1 L366.12,238.5 L366.25,232.0 L366.38,234.1 L366.50,239.7 L366.62,238.9 L366.75,245.2 L366.88,233.1 L367.00,235.2 L367.12,229.3 L367.25,236.7 L367.38,234.9 L367.50,233.7 L367.62,225.1 L367.75,233.1 L367.88,226.9 L368.00,228.9 L368.12,232.0 L368.25,228.7 L368.38,226.5 L368.50,232.3 L368.62,231.4 L368.75,236.6 L368.88,237.1 L369.00,242.4 L369.12,233.3 L369.25,228.9 L369.38,229.6 L369.50,236.3 L369.62,234.0 L369.75,233.0 L369.88,238.5 L370.00,227.9 L370.12,225.7 L370.25,232.6 L370.38,234.5 L370.50,227.1 L370.62,228.2 L370.75,227.7 L370.88,232.1 L371.00,227.2 L371.12,237.1 L371.25,228.6 L371.38,231.7 L371.50,224.4 L371.62,229.0 L371.75,238.9 L371.88,234.0 L372.00,234.7 L372.12,227.2 L372.25,231.6 L372.38,231.3 L372.50,231.8 L372.62,229.4 L372.75,217.3 L372.88,232.4 L373.00,232.6 L373.12,235.1 L373.25,228.1 L373.38,227.6 L373.50,231.3 L373.62,228.1 L373.75,241.4 L373.88,231.2 L374.00,237.9 L374.12,231.8 L374.25,238.7 L374.38,230.4 L374.50,230.0 L374.62,233.7 L374.75,238.2 L374.88,224.0 L375.00,242.7 L375.12,236.2 L375.25,232.7 L375.38,232.0 L375.50,223.2 L375.62,236.2 L375.75,234.8 L375.88,231.3 L376.00,222.9 L376.12,236.2 L376.25,234.2 L376.38,232.8 L376.50,232.2 L376.62,238.6 L376.75,235.1 L376.88,230.5 L377.00,232.0 L377.12,230.2 L377.25,227.1 L377.38,231.5 L377.50,237.8 L377.62,225.7 L377.75,232.8 L377.88,230.0 L378.00,236.7 L378.12,229.9 L378.25,228.2 L378.38,245.9 L378.50,233.7 L378.62,235.4 L378.75,231.9 L378.88,222.7 L379.00,234.7 L379.12,236.4 L379.25,239.5 L379.38,234.3 L379.50,230.4 L379.62,229.7 L379.75,233.3 L379.88,240.8 L380.00,235.1 L380.12,235.1 L380.25,237.1 L380.38,229.9 L380.50,230.1 L380.62,241.5 L380.75,234.3 L380.88,235.2 L381.00,235.9 L381.12,229.8 L381.25,232.9 L381.38,229.3 L381.50,228.4 L381.62,238.1 L381.75,230.9 L381.88,238.4 L382.00,238.5 L382.12,235.3 L382.25,234.4 L382.38,243.0 L382.50,238.6 L382.62,236.6 L382.75,233.5 L382.88,236.9 L383.00,233.8 L383.12,228.6 L383.25,235.2 L383.38,228.0 L383.50,237.0 L383.62,227.5 L383.75,222.6 L383.88,222.0 L384.00,223.2 L384.12,235.1 L384.25,235.9 L384.38,230.1 L384.50,231.0 L384.62,232.4 L384.75,228.9 L384.88,230.5 L385.00,232.2 L385.12,232.0 L385.25,229.1 L385.38,229.3 L385.50,234.8 L385.62,231.2 L385.75,232.6 L385.88,232.7 L386.00,230.8 L386.12,238.1 L386.25,226.6 L386.38,235.0 L386.50,239.0 L386.62,225.7 L386.75,228.6 L386.88,240.8 L387.00,237.9 L387.12,237.0 L387.25,234.1 L387.38,221.3 L387.50,238.0 L387.62,231.6 L387.75,236.1 L387.88,224.8 L388.00,216.6 L388.12,214.1 L388.25,213.3 L388.38,218.6 L388.50,213.2 L388.62,211.7 L388.75,216.2 L388.88,215.1 L389.00,208.5 L389.12,208.8 L389.25,210.9 L389.38,215.4 L389.50,213.2 L389.62,222.4 L389.75,223.3 L389.88,212.8 L390.00,223.1 L390.12,212.6 L390.25,209.8 L390.38,213.5 L390.50,216.5 L390.62,213.3 L390.75,216.2 L390.88,219.4 L391.00,205.0 L391.12,212.2 L391.25,215.7 L391.38,220.0 L391.50,219.2 L391.62,217.2 L391.75,212.8 L391.88,212.8 L392.00,224.6 L392.12,216.3 L392.25,211.4 L392.38,214.3 L392.50,208.7 L392.62,219.0 L392.75,216.5 L392.88,215.5 L393.00,213.0 L393.12,212.6 L393.25,217.7 L393.38,213.7 L393.50,211.7 L393.62,216.6 L393.75,210.1 L393.88,210.3 L394.00,209.4 L394.12,209.7 L394.25,206.5 L394.38,220.2 L394.50,214.4 L394.62,211.7 L394.75,211.5 L394.88,205.0 L395.00,220.4 L395.12,217.6 L395.25,218.4 L395.38,211.2 L395.50,211.8 L395.62,213.7 L395.75,209.6 L395.88,212.1 L396.00,208.3 L396.12,211.1 L396.25,210.0 L396.38,216.0 L396.50,211.3 L396.62,214.1 L396.75,207.3 L396.88,215.1 L397.00,214.9 L397.12,211.9 L397.25,205.0 L397.38,222.9 L397.50,221.2 L397.62,218.2 L397.75,216.4 L397.88,212.2 L398.00,205.0 L398.12,214.6 L398.25,209.3 L398.38,212.0 L398.50,210.8 L398.62,208.3 L398.75,218.5 L398.88,208.4 L399.00,222.9 L399.12,214.2 L399.25,209.6 L399.38,221.0 L399.50,231.1 L399.62,234.7 L399.75,229.3 L399.88,227.2 L400.00,235.7 L400.12,229.9 L400.25,232.4 L400.38,227.5 L400.50,228.9 L400.62,232.3 L400.75,230.4 L400.88,234.0 L401.00,240.2 L401.12,230.1 L401.25,231.3 L401.38,231.5 L401.50,237.7 L401.62,233.8 L401.75,237.6 L401.88,235.0 L402.00,235.6 L402.12,233.8 L402.25,228.8 L402.38,233.9 L402.50,232.3 L402.62,238.1 L402.75,234.6 L402.88,238.8 L403.00,227.3 L403.12,229.4 L403.25,225.9 L403.38,241.0 L403.50,233.6 L403.62,232.7 L403.75,236.6 L403.88,232.4 L404.00,214.7 L404.12,215.4 L404.25,215.3 L404.38,224.6 L404.50,217.8 L404.62,213.3 L404.75,211.8 L404.88,218.0 L405.00,208.0 L405.12,213.5 L405.25,229.1 L405.38,210.3 L405.50,216.9 L405.62,215.7 L405.75,220.6 L405.88,216.9 L406.00,230.4 L406.12,213.0 L406.25,214.2 L406.38,215.6 L406.50,212.1 L406.62,211.6 L406.75,213.4 L406.88,211.3 L407.00,213.6 L407.12,230.1 L407.25,216.7 L407.38,215.0 L407.50,219.0 L407.62,218.9 L407.75,211.5 L407.88,216.1 L408.00,218.1 L408.12,224.0 L408.25,214.4 L408.38,212.2 L408.50,218.2 L408.62,212.4 L408.75,216.9 L408.88,217.0 L409.00,211.6 L409.12,219.5 L409.25,214.2 L409.38,210.5 L409.50,208.9 L409.62,211.5 L409.75,220.1 L409.88,215.0 L410.00,207.8 L410.12,208.6 L410.25,216.4 L410.38,213.1 L410.50,212.7 L410.62,209.6 L410.75,212.5 L410.88,208.8 L411.00,214.8 L411.12,217.0 L411.25,211.9 L411.38,208.0 L411.50,214.4 L411.62,211.1 L411.75,213.9 L411.88,217.7 L412.00,217.0 L412.12,215.7 L412.25,218.9 L412.38,214.4 L412.50,211.9 L412.62,223.3 L412.75,222.4 L412.88,211.6 L413.00,216.4 L413.12,209.6 L413.25,219.4 L413.38,216.2 L413.50,211.6 L413.62,215.3 L413.75,223.4 L413.88,214.2 L414.00,209.7 L414.12,210.4 L414.25,209.8 L414.38,216.7 L414.50,207.2 L414.62,209.7 L414.75,210.4 L414.88,221.2 L415.00,217.2 L415.12,221.2 L415.25,219.7 L415.38,208.7 L415.50,210.6 L415.62,219.8 L415.75,214.6 L415.88,218.5 L416.00,213.0 L416.12,218.0 L416.25,213.4 L416.38,213.4 L416.50,207.2 L416.62,218.5 L416.75,205.1 L416.88,211.9 L417.00,214.1 L417.12,212.5 L417.25,216.7 L417.38,208.1 L417.50,208.5 L417.62,208.8 L417.75,205.0 L417.88,205.4 L418.00,214.3 L418.12,208.5 L418.25,205.0 L418.38,210.8 L418.50,208.2 L418.62,213.3 L418.75,209.1 L418.88,211.1 L419.00,207.7 L419.12,206.0 L419.25,208.8 L419.38,214.5 L419.50,217.6 L419.62,210.5 L419.75,205.9 L419.88,229.5 L420.00,217.4 L420.12,213.0 L420.25,215.4 L420.38,210.8 L420.50,212.1 L420.62,216.5 L420.75,218.6 L420.88,217.9 L421.00,220.3 L421.12,214.2 L421.25,215.0 L421.38,209.0 L421.50,213.7 L421.62,216.2 L421.75,213.7 L421.88,215.8 L422.00,212.6 L422.12,218.8 L422.25,218.5 L422.38,218.1 L422.50,216.0 L422.62,214.8 L422.75,212.8 L422.88,212.2 L423.00,214.0 L423.12,212.5 L423.25,218.2 L423.38,205.0 L423.50,209.4 L423.62,216.8 L423.75,209.2 L423.88,210.0 L424.00,247.5 L424.12,247.4 L424.25,241.9 L424.38,244.4 L424.50,247.5 L424.62,248.8 L424.75,242.2 L424.88,244.8 L425.00,239.0 L425.12,245.2 L425.25,245.2 L425.38,243.2 L425.50,247.2 L425.62,239.7 L425.75,239.3 L425.88,247.3 L426.00,244.9 L426.12,249.0 L426.25,247.9 L426.38,242.9 L426.50,244.7 L426.62,246.6 L426.75,240.8 L426.88,240.1 L427.00,245.7 L427.12,246.3 L427.25,233.7 L427.38,240.9 L427.50,250.5 L427.62,247.2 L427.75,244.3 L427.88,246.4 L428.00,237.1 L428.13,232.3 L428.25,240.5 L428.38,227.1 L428.51,229.6 L428.63,231.4 L428.76,234.7 L428.88,221.9 L429.01,222.0 L429.14,232.3 L429.26,235.8 L429.39,235.2 L429.52,232.9 L429.64,233.4 L429.77,236.1 L429.89,230.0 L430.02,233.3 L430.15,236.1 L430.27,239.1 L430.40,237.1 L430.53,235.3 L430.65,232.2 L430.78,240.4 L430.91,237.3 L431.03,228.9 L431.16,240.0 L431.28,238.3 L431.41,234.8 L431.54,232.1 L431.66,232.5 L431.79,232.6 L431.92,232.9 L432.04,231.4 L432.17,228.6 L432.29,232.3 L432.42,236.4 L432.55,239.0 L432.67,239.9 L432.80,231.3 L432.93,239.9 L433.05,237.5 L433.18,232.1 L433.31,227.1 L433.43,226.6 L433.56,234.9 L433.68,235.6 L433.81,236.3 L433.94,234.6 L434.06,241.3 L434.19,238.6 L434.32,229.7 L434.44,231.3 L434.57,239.4 L434.69,236.3 L434.82,234.9 L434.95,233.5 L435.07,231.1 L435.20,237.8 L435.33,238.8 L435.45,240.8 L435.58,235.4 L435.71,241.8 L435.83,231.5 L435.96,230.0 L436.08,231.0 L436.21,239.1 L436.34,235.3 L436.46,235.7 L436.59,235.1 L436.72,234.0 L436.84,231.6 L436.97,238.6 L437.09,232.8 L437.22,237.6 L437.35,237.8 L437.47,231.6" fill="none" stroke="#1e8f3f" stroke-width="0.9" stroke-linejoin="round" opacity="1"/>
<path d="M168.00,385.1 L168.12,388.0 L168.25,385.7 L168.38,380.3 L168.50,383.5 L168.62,383.3 L168.75,369.5 L168.88,382.8 L169.00,372.9 L169.12,375.8 L169.25,380.0 L169.38,383.8 L169.50,387.9 L169.62,382.0 L169.75,373.5 L169.88,378.2 L170.00,384.1 L170.12,388.8 L170.25,385.0 L170.38,382.8 L170.50,381.9 L170.62,382.5 L170.75,384.0 L170.88,372.2 L171.00,383.4 L171.12,386.3 L171.25,377.1 L171.38,384.2 L171.50,383.5 L171.62,387.4 L171.75,388.7 L171.88,388.0 L172.00,387.4 L172.12,380.6 L172.25,378.3 L172.38,383.5 L172.50,386.1 L172.62,380.8 L172.75,378.9 L172.88,382.6 L173.00,380.7 L173.12,386.0 L173.25,382.4 L173.38,382.7 L173.50,359.9 L173.62,365.3 L173.75,368.4 L173.88,370.1 L174.00,351.5 L174.12,365.1 L174.25,373.9 L174.38,364.1 L174.50,356.2 L174.62,362.9 L174.75,362.1 L174.88,356.7 L175.00,365.6 L175.12,365.2 L175.25,363.8 L175.38,357.5 L175.50,356.1 L175.62,366.3 L175.75,363.9 L175.88,361.5 L176.00,343.9 L176.12,362.8 L176.25,366.6 L176.38,352.9 L176.50,357.0 L176.62,362.3 L176.75,352.0 L176.88,361.0 L177.00,365.7 L177.12,373.5 L177.25,370.8 L177.38,371.9 L177.50,356.4 L177.62,347.2 L177.75,360.3 L177.88,359.3 L178.00,369.1 L178.12,359.3 L178.25,371.4 L178.38,366.7 L178.50,366.7 L178.62,368.1 L178.75,375.1 L178.88,367.0 L179.00,360.9 L179.12,366.8 L179.25,373.0 L179.38,356.5 L179.50,359.4 L179.62,363.3 L179.75,363.8 L179.88,368.0 L180.00,363.1 L180.12,360.3 L180.25,363.2 L180.38,370.1 L180.50,345.9 L180.62,371.1 L180.75,367.4 L180.88,369.7 L181.00,364.2 L181.12,365.3 L181.25,364.8 L181.38,362.2 L181.50,374.2 L181.62,369.0 L181.75,367.0 L181.88,367.4 L182.00,375.5 L182.12,372.5 L182.25,367.6 L182.38,364.2 L182.50,377.2 L182.62,367.6 L182.75,380.3 L182.88,367.8 L183.00,366.6 L183.12,358.2 L183.25,376.8 L183.38,372.2 L183.50,367.3 L183.62,359.3 L183.75,366.6 L183.88,367.6 L184.00,361.5 L184.12,348.8 L184.25,364.5 L184.38,370.0 L184.50,360.6 L184.62,366.3 L184.75,343.4 L184.88,370.5 L185.00,365.7 L185.12,368.5 L185.25,372.9 L185.38,374.0 L185.50,355.0 L185.62,365.3 L185.75,362.7 L185.88,350.6 L186.00,361.1 L186.12,360.9 L186.25,355.4 L186.38,364.7 L186.50,361.2 L186.62,356.0 L186.75,366.6 L186.88,366.2 L187.00,360.4 L187.12,377.3 L187.25,372.2 L187.38,359.7 L187.50,364.3 L187.62,368.8 L187.75,356.0 L187.88,359.7 L188.00,359.5 L188.12,352.0 L188.25,357.3 L188.38,362.5 L188.50,364.5 L188.62,363.5 L188.75,364.8 L188.88,369.2 L189.00,360.9 L189.12,362.3 L189.25,359.3 L189.38,359.6 L189.50,360.1 L189.62,353.0 L189.75,371.0 L189.88,359.4 L190.00,369.7 L190.12,361.5 L190.25,370.0 L190.38,366.8 L190.50,366.0 L190.62,352.8 L190.75,367.8 L190.88,362.9 L191.00,365.7 L191.12,357.6 L191.25,362.2 L191.38,368.2 L191.50,357.1 L191.62,357.9 L191.75,354.5 L191.88,371.5 L192.00,351.7 L192.12,358.3 L192.25,372.0 L192.38,370.4 L192.50,344.8 L192.62,358.0 L192.75,354.1 L192.88,359.0 L193.00,356.5 L193.12,362.5 L193.25,364.1 L193.38,370.4 L193.50,360.2 L193.62,363.2 L193.75,369.3 L193.88,362.1 L194.00,362.3 L194.12,371.4 L194.25,368.4 L194.38,368.3 L194.50,365.9 L194.62,360.3 L194.75,365.5 L194.88,348.6 L195.00,373.2 L195.12,376.4 L195.25,364.9 L195.38,356.8 L195.50,368.9 L195.62,358.1 L195.75,369.5 L195.88,360.2 L196.00,368.2 L196.12,370.7 L196.25,359.0 L196.38,370.9 L196.50,365.3 L196.62,357.8 L196.75,356.4 L196.88,365.7 L197.00,370.7 L197.12,363.1 L197.25,370.0 L197.38,376.5 L197.50,369.7 L197.62,364.3 L197.75,358.8 L197.88,367.8 L198.00,361.1 L198.12,370.1 L198.25,361.9 L198.38,364.4 L198.50,354.8 L198.62,372.6 L198.75,368.4 L198.88,349.9 L199.00,356.7 L199.12,363.2 L199.25,375.6 L199.38,362.9 L199.50,368.2 L199.62,361.7 L199.75,369.2 L199.88,363.9 L200.00,358.3 L200.12,369.3 L200.25,340.0 L200.38,369.8 L200.50,369.6 L200.62,374.3 L200.75,364.1 L200.88,359.3 L201.00,364.2 L201.12,364.7 L201.25,372.2 L201.38,365.0 L201.50,365.9 L201.62,365.8 L201.75,364.6 L201.88,372.8 L202.00,365.6 L202.12,364.8 L202.25,368.8 L202.38,368.7 L202.50,371.4 L202.62,366.7 L202.75,358.4 L202.88,364.8 L203.00,346.3 L203.12,349.3 L203.25,347.7 L203.38,344.6 L203.50,347.4 L203.62,354.4 L203.75,360.3 L203.88,348.9 L204.00,348.1 L204.12,350.0 L204.25,342.2 L204.38,346.3 L204.50,347.3 L204.62,359.0 L204.75,349.2 L204.88,352.1 L205.00,349.9 L205.12,347.7 L205.25,345.1 L205.38,365.1 L205.50,352.9 L205.62,354.1 L205.75,353.0 L205.88,353.4 L206.00,344.1 L206.12,351.8 L206.25,345.1 L206.38,356.6 L206.50,355.7 L206.62,351.3 L206.75,353.7 L206.88,356.8 L207.00,352.7 L207.12,359.0 L207.25,338.0 L207.38,356.6 L207.50,353.1 L207.62,354.5 L207.75,353.7 L207.88,353.6 L208.00,346.1 L208.12,358.6 L208.25,362.4 L208.38,351.4 L208.50,340.3 L208.62,351.3 L208.75,358.3 L208.88,339.7 L209.00,351.7 L209.12,352.8 L209.25,356.2 L209.38,349.7 L209.50,359.4 L209.62,353.2 L209.75,352.6 L209.88,349.1 L210.00,355.4 L210.12,351.9 L210.25,357.1 L210.38,345.5 L210.50,344.6 L210.62,345.5 L210.75,344.1 L210.88,353.3 L211.00,355.0 L211.12,348.7 L211.25,346.2 L211.38,358.3 L211.50,346.3 L211.62,352.6 L211.75,353.3 L211.88,344.5 L212.00,338.0 L212.12,340.6 L212.25,345.8 L212.38,355.7 L212.50,351.4 L212.62,352.2 L212.75,343.6 L212.88,348.0 L213.00,347.5 L213.12,338.0 L213.25,342.9 L213.38,356.5 L213.50,348.8 L213.62,341.5 L213.75,342.7 L213.88,349.7 L214.00,361.8 L214.12,351.4 L214.25,349.3 L214.38,357.7 L214.50,358.2 L214.62,348.1 L214.75,348.6 L214.88,351.1 L215.00,354.7 L215.12,371.3 L215.25,355.2 L215.38,348.8 L215.50,353.5 L215.62,344.1 L215.75,355.6 L215.88,338.6 L216.00,347.6 L216.12,354.5 L216.25,357.4 L216.38,351.9 L216.50,353.7 L216.62,347.6 L216.75,346.3 L216.88,347.9 L217.00,353.8 L217.12,347.7 L217.25,351.4 L217.38,339.9 L217.50,353.8 L217.62,350.1 L217.75,355.0 L217.88,350.8 L218.00,347.7 L218.12,341.9 L218.25,348.8 L218.38,351.2 L218.50,352.1 L218.62,353.1 L218.75,345.6 L218.88,351.0 L219.00,340.6 L219.12,347.6 L219.25,348.0 L219.38,355.5 L219.50,367.0 L219.62,338.9 L219.75,353.4 L219.88,343.4 L220.00,338.7 L220.12,359.8 L220.25,355.2 L220.38,340.5 L220.50,348.5 L220.62,352.6 L220.75,346.3 L220.88,342.3 L221.00,354.8 L221.12,355.0 L221.25,351.5 L221.38,346.5 L221.50,346.8 L221.62,346.7 L221.75,351.8 L221.88,360.5 L222.00,351.4 L222.12,345.0 L222.25,350.0 L222.38,349.2 L222.50,357.8 L222.62,352.5 L222.75,355.4 L222.88,347.1 L223.00,354.4 L223.12,353.0 L223.25,350.7 L223.38,350.0 L223.50,363.1 L223.62,356.7 L223.75,349.6 L223.88,351.5 L224.00,352.4 L224.12,352.1 L224.25,350.3 L224.38,352.0 L224.50,353.5 L224.62,357.2 L224.75,342.9 L224.88,354.1 L225.00,349.5 L225.12,356.9 L225.25,354.6 L225.38,347.3 L225.50,363.5 L225.62,357.3 L225.75,351.6 L225.88,343.9 L226.00,359.9 L226.12,357.0 L226.25,358.9 L226.38,356.4 L226.50,338.0 L226.62,350.8 L226.75,354.7 L226.88,358.9 L227.00,346.6 L227.12,359.0 L227.25,360.1 L227.38,353.4 L227.50,353.3 L227.62,367.5 L227.75,354.7 L227.88,357.9 L228.00,349.3 L228.12,350.7 L228.25,353.0 L228.38,352.6 L228.50,355.8 L228.62,357.8 L228.75,349.7 L228.88,352.2 L229.00,355.6 L229.12,350.6 L229.25,357.6 L229.38,366.8 L229.50,348.6 L229.62,346.6 L229.75,359.6 L229.88,354.0 L230.00,356.3 L230.12,362.6 L230.25,357.7 L230.38,358.0 L230.50,348.4 L230.62,351.8 L230.75,354.0 L230.88,362.7 L231.00,354.4 L231.12,358.1 L231.25,353.4 L231.38,351.2 L231.50,350.8 L231.62,349.8 L231.75,349.1 L231.88,348.5 L232.00,361.2 L232.12,355.1 L232.25,351.5 L232.38,355.9 L232.50,353.2 L232.62,348.3 L232.75,351.4 L232.88,349.8 L233.00,367.1 L233.12,350.2 L233.25,355.4 L233.38,347.4 L233.50,345.5 L233.62,338.0 L233.75,354.3 L233.88,346.8 L234.00,357.3 L234.12,353.5 L234.25,357.2 L234.38,354.1 L234.50,348.0 L234.62,353.9 L234.75,349.9 L234.88,352.3 L235.00,345.4 L235.12,351.9 L235.25,358.6 L235.38,345.3 L235.50,342.8 L235.62,339.3 L235.75,354.8 L235.88,360.1 L236.00,355.3 L236.12,356.7 L236.25,340.7 L236.38,342.6 L236.50,351.3 L236.62,346.5 L236.75,349.3 L236.88,355.9 L237.00,347.3 L237.12,349.9 L237.25,351.1 L237.38,348.9 L237.50,358.0 L237.62,350.5 L237.75,342.0 L237.88,340.9 L238.00,356.9 L238.12,355.0 L238.25,349.1 L238.38,358.8 L238.50,356.4 L238.62,344.6 L238.75,354.9 L238.88,351.9 L239.00,370.2 L239.12,353.3 L239.25,352.5 L239.38,354.2 L239.50,355.3 L239.62,344.4 L239.75,349.0 L239.88,343.5 L240.00,347.5 L240.12,352.4 L240.25,357.2 L240.38,348.2 L240.50,352.3 L240.62,343.6 L240.75,356.7 L240.88,351.0 L241.00,353.8 L241.12,350.0 L241.25,348.4 L241.38,348.1 L241.50,350.0 L241.62,348.3 L241.75,342.6 L241.88,348.8 L242.00,373.6 L242.12,362.0 L242.25,378.8 L242.38,368.7 L242.50,386.5 L242.62,371.4 L242.75,374.2 L242.88,368.2 L243.00,358.7 L243.12,383.4 L243.25,370.3 L243.38,365.6 L243.50,376.1 L243.62,377.2 L243.75,369.3 L243.88,358.0 L244.00,348.8 L244.12,379.3 L244.25,373.2 L244.38,369.3 L244.50,376.4 L244.62,379.1 L244.75,371.8 L244.88,373.2 L245.00,374.3 L245.12,383.2 L245.25,397.0 L245.38,368.9 L245.50,377.9 L245.62,373.0 L245.75,382.4 L245.88,375.1 L246.00,373.5 L246.12,375.0 L246.25,376.0 L246.38,374.8 L246.50,376.9 L246.62,377.9 L246.75,378.3 L246.88,373.2 L247.00,375.5 L247.12,378.4 L247.25,370.1 L247.38,373.5 L247.50,373.5 L247.62,374.0 L247.75,374.1 L247.88,369.0 L248.00,374.6 L248.12,370.4 L248.25,374.0 L248.38,376.3 L248.50,377.5 L248.62,376.7 L248.75,377.0 L248.88,375.5 L249.00,375.4 L249.12,380.3 L249.25,375.5 L249.38,367.2 L249.50,381.0 L249.62,370.5 L249.75,375.3 L249.88,375.3 L250.00,374.8 L250.12,374.0 L250.25,364.9 L250.38,365.7 L250.50,374.7 L250.62,370.0 L250.75,370.1 L250.88,374.9 L251.00,371.3 L251.12,371.7 L251.25,365.7 L251.38,367.5 L251.50,374.6 L251.62,376.7 L251.75,377.2 L251.88,376.0 L252.00,372.9 L252.12,372.2 L252.25,373.2 L252.38,367.9 L252.50,379.8 L252.62,375.3 L252.75,370.5 L252.88,357.5 L253.00,367.0 L253.12,371.1 L253.25,378.3 L253.38,374.4 L253.50,380.1 L253.62,364.3 L253.75,374.8 L253.88,379.1 L254.00,372.3 L254.12,371.6 L254.25,367.6 L254.38,377.7 L254.50,377.9 L254.62,376.6 L254.75,377.1 L254.88,368.6 L255.00,383.1 L255.12,377.5 L255.25,380.0 L255.38,377.1 L255.50,363.6 L255.62,370.7 L255.75,375.0 L255.88,375.3 L256.00,377.0 L256.12,373.8 L256.25,381.8 L256.38,367.7 L256.50,367.6 L256.62,375.6 L256.75,374.7 L256.88,371.3 L257.00,369.5 L257.12,376.1 L257.25,375.3 L257.38,379.4 L257.50,379.9 L257.62,372.2 L257.75,370.9 L257.88,371.9 L258.00,396.7 L258.12,373.6 L258.25,372.5 L258.38,369.7 L258.50,377.9 L258.62,373.8 L258.75,375.2 L258.88,366.8 L259.00,359.4 L259.12,370.5 L259.25,378.9 L259.38,374.9 L259.50,376.2 L259.62,375.8 L259.75,368.8 L259.88,376.6 L260.00,368.5 L260.12,364.8 L260.25,369.4 L260.38,362.2 L260.50,367.8 L260.62,373.3 L260.75,362.9 L260.88,365.8 L261.00,356.3 L261.12,363.6 L261.25,370.6 L261.38,365.9 L261.50,369.5 L261.62,363.2 L261.75,362.2 L261.88,357.2 L262.00,359.5 L262.12,374.8 L262.25,363.3 L262.38,358.1 L262.50,356.8 L262.62,365.8 L262.75,371.1 L262.88,370.3 L263.00,368.0 L263.12,374.9 L263.25,368.6 L263.38,374.5 L263.50,352.5 L263.62,366.5 L263.75,371.1 L263.88,369.5 L264.00,355.7 L264.12,364.1 L264.25,367.8 L264.38,361.2 L264.50,367.3 L264.62,364.7 L264.75,371.2 L264.88,363.2 L265.00,368.7 L265.12,370.3 L265.25,367.6 L265.38,373.3 L265.50,364.7 L265.62,376.3 L265.75,367.0 L265.88,376.2 L266.00,368.3 L266.12,370.5 L266.25,371.4 L266.38,370.5 L266.50,362.7 L266.62,367.7 L266.75,366.4 L266.88,375.4 L267.00,357.2 L267.12,360.8 L267.25,366.7 L267.38,362.2 L267.50,363.1 L267.62,362.4 L267.75,378.7 L267.88,367.7 L268.00,362.5 L268.12,364.4 L268.25,368.9 L268.38,371.0 L268.50,370.5 L268.62,368.7 L268.75,369.9 L268.88,369.0 L269.00,364.5 L269.12,363.6 L269.25,367.9 L269.38,361.9 L269.50,366.6 L269.62,366.3 L269.75,372.7 L269.88,374.9 L270.00,361.1 L270.12,369.2 L270.25,363.0 L270.38,353.2 L270.50,358.6 L270.62,359.1 L270.75,352.5 L270.88,362.5 L271.00,360.3 L271.12,365.2 L271.25,355.9 L271.38,365.7 L271.50,360.2 L271.62,362.8 L271.75,351.6 L271.88,366.8 L272.00,367.6 L272.12,365.1 L272.25,390.2 L272.38,366.8 L272.50,363.5 L272.62,357.4 L272.75,363.5 L272.88,368.1 L273.00,363.6 L273.12,360.8 L273.25,365.7 L273.38,367.7 L273.50,359.9 L273.62,376.6 L273.75,351.1 L273.88,360.6 L274.00,366.7 L274.12,355.8 L274.25,352.4 L274.38,360.2 L274.50,353.2 L274.62,359.5 L274.75,362.1 L274.88,354.3 L275.00,348.0 L275.12,357.8 L275.25,361.7 L275.38,361.3 L275.50,357.2 L275.62,365.4 L275.75,361.8 L275.88,371.4 L276.00,357.1 L276.12,359.3 L276.25,360.5 L276.38,358.8 L276.50,359.5 L276.62,362.9 L276.75,349.9 L276.88,363.0 L277.00,363.5 L277.12,356.6 L277.25,365.4 L277.38,358.1 L277.50,361.3 L277.62,360.8 L277.75,388.6 L277.88,362.7 L278.00,367.1 L278.12,350.7 L278.25,359.8 L278.38,355.2 L278.50,351.6 L278.62,340.8 L278.75,353.7 L278.88,364.2 L279.00,386.1 L279.12,381.3 L279.25,380.4 L279.38,387.3 L279.50,379.9 L279.62,387.5 L279.75,379.8 L279.88,372.1 L280.00,372.4 L280.12,381.4 L280.25,376.8 L280.38,378.1 L280.50,377.4 L280.62,387.3 L280.75,373.1 L280.88,378.1 L281.00,379.1 L281.12,378.9 L281.25,374.8 L281.38,376.1 L281.50,390.5 L281.62,381.1 L281.75,374.7 L281.88,381.7 L282.00,388.7 L282.12,378.6 L282.25,377.5 L282.38,380.4 L282.50,380.2 L282.62,383.1 L282.75,379.3 L282.88,379.8 L283.00,382.2 L283.12,381.2 L283.25,377.5 L283.38,373.4 L283.50,382.8 L283.62,375.0 L283.75,382.5 L283.88,384.1 L284.00,380.6 L284.12,367.9 L284.25,378.8 L284.38,379.7 L284.50,379.7 L284.62,379.9 L284.75,379.4 L284.88,387.3 L285.00,365.9 L285.12,375.9 L285.25,385.0 L285.38,382.5 L285.50,384.6 L285.62,381.4 L285.75,379.3 L285.88,386.6 L286.00,379.0 L286.12,383.8 L286.25,384.8 L286.38,381.5 L286.50,378.5 L286.62,373.7 L286.75,387.4 L286.88,375.5 L287.00,368.8 L287.12,379.7 L287.25,386.8 L287.38,380.7 L287.50,377.9 L287.62,382.0 L287.75,373.7 L287.88,386.2 L288.00,384.8 L288.12,392.1 L288.25,397.0 L288.38,392.6 L288.50,384.6 L288.62,397.0 L288.75,382.5 L288.88,382.2 L289.00,382.9 L289.12,382.8 L289.25,387.8 L289.38,383.4 L289.50,380.2 L289.62,386.2 L289.75,382.5 L289.88,383.8 L290.00,395.1 L290.12,381.6 L290.25,391.6 L290.38,385.1 L290.50,382.2 L290.62,367.8 L290.75,384.3 L290.88,387.2 L291.00,378.5 L291.12,397.0 L291.25,380.1 L291.38,381.8 L291.50,378.3 L291.62,382.7 L291.75,380.7 L291.88,380.4 L292.00,380.5 L292.12,382.6 L292.25,374.4 L292.38,390.5 L292.50,388.5 L292.62,392.8 L292.75,394.4 L292.88,394.1 L293.00,382.3 L293.12,379.7 L293.25,395.8 L293.38,383.2 L293.50,386.0 L293.62,387.4 L293.75,385.6 L293.88,392.8 L294.00,394.2 L294.12,383.3 L294.25,390.6 L294.38,385.1 L294.50,377.9 L294.62,393.4 L294.75,382.3 L294.88,382.9 L295.00,386.3 L295.12,381.9 L295.25,382.9 L295.38,376.2 L295.50,390.7 L295.62,397.0 L295.75,386.8 L295.88,386.0 L296.00,389.3 L296.12,389.0 L296.25,387.9 L296.38,387.3 L296.50,383.9 L296.62,384.1 L296.75,381.6 L296.88,387.6 L297.00,385.0 L297.12,376.4 L297.25,386.2 L297.38,378.4 L297.50,386.1 L297.62,381.9 L297.75,382.6 L297.88,385.7 L298.00,383.2 L298.12,384.2 L298.25,386.0 L298.38,392.2 L298.50,378.1 L298.62,381.2 L298.75,371.3 L298.88,392.9 L299.00,383.9 L299.12,387.3 L299.25,387.2 L299.38,384.0 L299.50,387.3 L299.62,391.0 L299.75,386.7 L299.88,378.4 L300.00,394.4 L300.12,383.9 L300.25,393.3 L300.38,387.1 L300.50,381.6 L300.62,390.3 L300.75,388.9 L300.88,381.7 L301.00,389.3 L301.12,392.0 L301.25,388.6 L301.38,383.5 L301.50,390.4 L301.62,383.5 L301.75,386.0 L301.88,389.0 L302.00,382.0 L302.12,388.4 L302.25,387.8 L302.38,380.9 L302.50,382.3 L302.62,382.4 L302.75,376.7 L302.88,378.2 L303.00,377.6 L303.12,383.4 L303.25,393.1 L303.38,381.1 L303.50,388.7 L303.62,395.4 L303.75,382.7 L303.88,385.7 L304.00,388.7 L304.12,375.4 L304.25,367.0 L304.38,383.7 L304.50,384.7 L304.62,380.5 L304.75,387.3 L304.88,390.9 L305.00,368.3 L305.13,392.4 L305.25,366.0 L305.38,360.2 L305.50,365.8 L305.63,358.2 L305.75,361.2 L305.88,370.5 L306.01,365.6 L306.13,364.4 L306.26,355.4 L306.38,351.4 L306.51,356.0 L306.64,359.4 L306.76,361.1 L306.89,356.6 L307.01,358.7 L307.14,366.2 L307.26,350.4 L307.39,365.6 L307.52,354.7 L307.64,365.5 L307.77,368.9 L307.89,361.8 L308.02,368.1 L308.15,365.1 L308.27,364.2 L308.40,364.0 L308.52,374.2 L308.65,363.3 L308.77,367.5 L308.90,364.2 L309.03,363.2 L309.15,360.8 L309.28,364.4 L309.40,365.6 L309.53,369.9 L309.65,364.7 L309.78,359.5 L309.91,363.0 L310.03,372.3 L310.16,368.6 L310.28,377.7 L310.41,368.2 L310.54,360.7 L310.66,364.9 L310.79,365.2 L310.91,372.3 L311.04,368.0 L311.16,363.0 L311.29,371.7 L311.42,370.4 L311.54,372.0 L311.67,364.3 L311.79,360.0 L311.92,363.7 L312.05,362.2 L312.17,363.9 L312.30,363.8 L312.42,369.0 L312.55,364.0 L312.67,367.5 L312.80,369.1 L312.93,366.1 L313.05,363.9 L313.18,372.0 L313.30,358.6 L313.43,361.5 L313.55,362.8 L313.68,356.3 L313.81,360.7 L313.93,357.7 L314.06,364.7 L314.18,368.8 L314.31,365.9 L314.44,358.6 L314.56,358.8 L314.69,358.9 L314.81,354.3 L314.94,368.3 L315.06,358.9 L315.19,354.8 L315.32,362.4 L315.44,355.3 L315.57,364.2 L315.69,366.7 L315.82,362.9 L315.95,366.0 L316.07,368.5 L316.20,368.1 L316.32,389.1 L316.45,360.2 L316.57,371.5 L316.70,362.9 L316.83,372.5 L316.95,373.7 L317.08,367.4 L317.20,368.0 L317.33,363.5 L317.45,363.0 L317.58,366.8 L317.71,367.0 L317.83,364.1 L317.96,371.1 L318.08,360.0 L318.21,371.3 L318.34,370.3 L318.46,367.1 L318.59,363.6 L318.71,368.6 L318.84,357.6 L318.96,368.0 L319.09,361.3 L319.22,354.2 L319.34,359.7 L319.47,366.4 L319.59,360.1 L319.72,361.1 L319.85,368.8 L319.97,361.5 L320.10,359.7 L320.22,359.7 L320.35,360.1 L320.47,363.5 L320.60,355.4 L320.73,348.2 L320.85,352.3 L320.98,359.7 L321.10,344.9 L321.23,347.2 L321.36,349.1 L321.48,344.8 L321.61,351.4 L321.73,346.3 L321.86,346.7 L321.99,359.9 L322.11,354.6 L322.24,347.7 L322.36,353.9 L322.49,350.6 L322.61,347.5 L322.74,360.8 L322.87,347.6 L322.99,352.8 L323.12,349.7 L323.24,351.7 L323.37,348.7 L323.50,343.6 L323.62,338.0 L323.75,353.6 L323.87,348.4 L324.00,376.3 L324.12,375.4 L324.25,382.2 L324.38,378.4 L324.50,382.0 L324.62,384.1 L324.75,384.6 L324.88,376.0 L325.00,378.4 L325.12,379.8 L325.25,378.0 L325.38,372.7 L325.50,377.0 L325.62,390.4 L325.75,391.3 L325.88,369.1 L326.00,385.2 L326.12,383.0 L326.25,369.9 L326.38,379.1 L326.50,385.4 L326.62,384.9 L326.75,382.9 L326.88,385.8 L327.00,376.0 L327.12,379.6 L327.25,385.0 L327.38,381.0 L327.50,377.3 L327.62,380.9 L327.75,376.5 L327.88,376.0 L328.00,380.3 L328.12,378.5 L328.25,382.4 L328.38,380.6 L328.50,386.3 L328.62,380.0 L328.75,377.9 L328.88,374.2 L329.00,378.2 L329.12,388.8 L329.25,378.5 L329.38,368.3 L329.50,385.6 L329.62,378.4 L329.75,378.4 L329.88,383.6 L330.00,372.5 L330.12,382.0 L330.25,382.1 L330.38,383.8 L330.50,381.8 L330.62,384.0 L330.75,379.4 L330.88,377.4 L331.00,379.1 L331.12,379.4 L331.25,391.1 L331.38,392.2 L331.50,387.3 L331.62,384.6 L331.75,379.2 L331.88,384.9 L332.00,379.1 L332.12,383.1 L332.25,384.8 L332.38,376.6 L332.50,381.7 L332.62,381.2 L332.75,389.7 L332.88,383.5 L333.00,382.2 L333.12,389.6 L333.25,382.1 L333.38,387.3 L333.50,387.6 L333.62,388.4 L333.75,383.0 L333.88,386.3 L334.00,375.2 L334.12,383.2 L334.25,387.7 L334.38,387.7 L334.50,390.3 L334.62,380.7 L334.75,377.9 L334.88,384.4 L335.00,379.5 L335.12,378.4 L335.25,379.2 L335.38,379.5 L335.50,387.7 L335.62,385.3 L335.75,382.8 L335.88,377.2 L336.00,387.3 L336.12,375.5 L336.25,362.1 L336.38,386.4 L336.50,397.0 L336.62,373.4 L336.75,384.5 L336.88,387.7 L337.00,375.1 L337.12,381.2 L337.25,383.3 L337.38,385.6 L337.50,381.6 L337.62,389.7 L337.75,387.3 L337.88,377.2 L338.00,380.9 L338.12,383.3 L338.25,385.4 L338.38,387.6 L338.50,370.3 L338.62,384.4 L338.75,375.6 L338.88,386.2 L339.00,383.9 L339.12,380.7 L339.25,374.1 L339.38,383.6 L339.50,373.7 L339.62,384.1 L339.75,387.8 L339.88,381.3 L340.00,380.1 L340.12,380.6 L340.25,385.0 L340.38,378.2 L340.50,385.7 L340.62,382.5 L340.75,388.7 L340.88,383.0 L341.00,384.4 L341.12,387.4 L341.25,384.6 L341.38,392.9 L341.50,397.0 L341.62,390.3 L341.75,380.3 L341.88,375.7 L342.00,378.5 L342.12,387.6 L342.25,383.2 L342.38,397.0 L342.50,387.2 L342.62,380.5 L342.75,374.4 L342.88,382.1 L343.00,383.3 L343.12,389.6 L343.25,381.7 L343.38,387.1 L343.50,393.4 L343.62,380.7 L343.75,379.4 L343.88,383.1 L344.00,381.0 L344.12,383.6 L344.25,388.6 L344.38,380.6 L344.50,391.3 L344.62,390.8 L344.75,387.3 L344.88,382.7 L345.00,386.0 L345.12,383.5 L345.25,379.2 L345.38,387.1 L345.50,386.9 L345.62,386.6 L345.75,391.1 L345.88,396.9 L346.00,365.5 L346.12,384.1 L346.25,372.9 L346.38,382.8 L346.50,360.7 L346.63,344.3 L346.75,353.5 L346.88,363.1 L347.00,355.0 L347.13,353.6 L347.25,360.8 L347.38,354.3 L347.50,340.4 L347.63,360.0 L347.75,347.1 L347.88,361.8 L348.00,350.7 L348.13,356.9 L348.25,345.4 L348.38,346.7 L348.50,347.8 L348.63,362.1 L348.75,362.7 L348.88,350.2 L349.00,362.4 L349.13,359.8 L349.25,360.3 L349.38,362.6 L349.51,356.1 L349.63,359.7 L349.76,354.4 L349.88,356.1 L350.01,368.0 L350.13,366.4 L350.26,360.3 L350.38,361.3 L350.51,355.8 L350.63,353.6 L350.76,351.5 L350.88,357.1 L351.01,362.4 L351.13,355.9 L351.26,357.6 L351.38,357.5 L351.51,360.3 L351.63,361.3 L351.76,361.3 L351.88,356.3 L352.01,363.1 L352.14,360.2 L352.26,349.7 L352.39,352.9 L352.51,352.8 L352.64,358.0 L352.76,356.8 L352.89,358.0 L353.01,349.8 L353.14,357.0 L353.26,366.2 L353.39,355.4 L353.51,360.7 L353.64,345.3 L353.76,369.1 L353.89,350.9 L354.01,359.4 L354.14,362.6 L354.26,354.8 L354.39,357.3 L354.51,353.2 L354.64,361.5 L354.76,358.5 L354.89,351.4 L355.02,351.8 L355.14,357.4 L355.27,359.8 L355.39,367.3 L355.52,357.0 L355.64,357.4 L355.77,364.1 L355.89,352.9 L356.02,353.6 L356.14,352.2 L356.27,353.5 L356.39,357.8 L356.52,362.3 L356.64,366.3 L356.77,350.5 L356.89,356.0 L357.02,359.8 L357.14,356.1 L357.27,358.0 L357.39,354.6 L357.52,353.8 L357.65,352.6 L357.77,360.9 L357.90,353.5 L358.02,358.9 L358.15,365.3 L358.27,350.7 L358.40,347.3 L358.52,355.1 L358.65,364.4 L358.77,361.9 L358.90,357.1 L359.02,355.8 L359.15,368.8 L359.27,360.7 L359.40,357.1 L359.52,355.3 L359.65,357.4 L359.77,361.3 L359.90,359.9 L360.02,365.2 L360.15,357.7 L360.27,358.5 L360.40,387.5 L360.53,378.3 L360.65,388.7 L360.78,388.2 L360.90,388.4 L361.03,386.1 L361.15,379.9 L361.28,377.4 L361.40,382.3 L361.53,388.1 L361.66,385.4 L361.78,379.5 L361.91,386.1 L362.03,386.8 L362.16,375.1 L362.28,392.0 L362.41,386.7 L362.53,390.3 L362.66,387.0 L362.79,395.8 L362.91,389.1 L363.04,387.4 L363.16,384.5 L363.29,384.8 L363.41,391.6 L363.54,387.8 L363.66,381.3 L363.79,380.7 L363.92,378.2 L364.04,383.7 L364.17,381.7 L364.29,393.3 L364.42,393.7 L364.54,389.7 L364.67,386.2 L364.79,397.0 L364.92,395.6 L365.05,387.7 L365.17,397.0 L365.30,393.8 L365.42,390.0 L365.55,393.4 L365.67,385.7 L365.80,388.1 L365.92,394.5 L366.05,393.4 L366.18,397.0 L366.30,386.5 L366.43,388.8 L366.55,381.9 L366.68,390.5 L366.80,388.3 L366.93,386.9 L367.05,376.7 L367.18,386.0 L367.31,378.8 L367.43,381.1 L367.56,384.5 L367.68,380.6 L367.81,378.0 L367.93,384.7 L368.06,383.6 L368.18,389.7 L368.31,390.1 L368.44,396.3 L368.56,385.6 L368.69,380.5 L368.81,381.2 L368.94,389.0 L369.06,386.3 L369.19,385.2 L369.31,391.6 L369.44,379.2 L369.57,376.5 L369.69,384.7 L369.82,386.9 L369.94,378.2 L370.07,379.5 L370.19,378.8 L370.32,384.0 L370.44,378.2 L370.57,389.8 L370.70,379.8 L370.82,383.4 L370.95,374.9 L371.07,380.2 L371.20,391.7 L371.32,386.0 L371.45,386.7 L371.57,377.9 L371.70,383.0 L371.83,382.7 L371.95,383.3 L372.08,380.5 L372.20,366.2 L372.33,384.0 L372.45,384.1 L372.58,387.1 L372.70,378.9 L372.83,378.3 L372.96,382.6 L373.08,378.9 L373.21,394.4 L373.33,382.5 L373.46,390.3 L373.58,383.1 L373.71,391.2 L373.83,381.5 L373.96,381.0 L374.09,385.4 L374.21,390.8 L374.34,373.9 L374.46,396.0 L374.59,388.4 L374.71,384.2 L374.84,383.4 L374.96,373.1 L375.09,388.3 L375.22,386.7 L375.34,382.6 L375.47,372.8 L375.59,388.3 L375.72,386.0 L375.84,384.3 L375.97,383.6 L376.09,391.1 L376.22,387.0 L376.35,381.6 L376.47,383.3 L376.60,381.3 L376.72,377.7 L376.85,382.8 L376.97,390.2 L377.10,376.1 L377.22,384.4 L377.35,381.1 L377.48,388.9 L377.60,380.9 L377.73,379.0 L377.85,397.0 L377.98,385.4 L378.10,387.4 L378.23,383.3 L378.35,372.5 L378.48,386.5 L378.61,388.6 L378.73,392.2 L378.86,386.1 L378.98,381.6 L379.11,380.8 L379.23,385.0 L379.36,393.7 L379.48,387.1 L379.61,387.0 L379.74,389.4 L379.86,380.9 L379.99,381.1 L380.11,394.6 L380.24,386.0 L380.36,387.2 L380.49,388.0 L380.61,380.8 L380.74,384.4 L380.87,380.2 L380.99,379.1 L381.12,390.5 L381.24,381.9 L381.37,390.8 L381.49,390.9 L381.62,387.1 L381.74,386.1 L381.87,396.1 L382.00,391.0 L382.12,388.6 L382.25,385.1 L382.37,389.0 L382.50,385.4 L382.62,379.3 L382.75,387.1 L382.87,378.6 L383.00,370.1 L383.12,359.0 L383.25,353.3 L383.38,354.7 L383.50,354.1 L383.62,368.0 L383.75,369.0 L383.88,362.2 L384.00,363.2 L384.12,364.9 L384.25,360.9 L384.38,362.8 L384.50,364.7 L384.62,364.5 L384.75,361.0 L384.88,361.2 L385.00,367.8 L385.12,363.4 L385.25,365.1 L385.38,365.3 L385.50,363.0 L385.62,371.6 L385.75,358.1 L385.88,368.0 L386.00,372.6 L386.12,357.0 L386.25,360.3 L386.38,374.8 L386.50,371.4 L386.62,370.3 L386.75,366.8 L386.88,353.9 L387.00,371.4 L387.12,363.9 L387.25,369.2 L387.38,357.8 L387.50,357.8 L387.62,372.0 L387.75,371.2 L387.88,366.3 L388.00,363.8 L388.12,367.0 L388.25,373.7 L388.38,361.1 L388.50,361.9 L388.62,374.1 L388.75,358.1 L388.88,373.3 L389.00,360.7 L389.12,359.6 L389.25,366.1 L389.38,366.5 L389.50,367.3 L389.62,348.8 L389.75,364.2 L389.88,353.4 L390.00,371.1 L390.12,368.3 L390.25,367.3 L390.38,362.7 L390.50,362.8 L390.62,366.4 L390.75,378.5 L390.88,367.2 L391.00,364.2 L391.12,359.8 L391.25,368.7 L391.38,364.9 L391.50,365.6 L391.62,362.3 L391.75,359.5 L391.88,363.8 L392.00,363.0 L392.12,371.8 L392.25,356.8 L392.38,361.3 L392.50,345.2 L392.62,362.0 L392.75,360.2 L392.88,348.3 L393.00,369.6 L393.12,352.7 L393.25,356.6 L393.38,359.0 L393.50,367.6 L393.62,366.7 L393.75,362.5 L393.88,354.2 L394.00,361.6 L394.12,361.0 L394.25,361.5 L394.38,359.3 L394.50,369.6 L394.62,360.9 L394.75,352.5 L394.88,366.1 L395.00,369.4 L395.12,371.9 L395.25,370.3 L395.38,371.5 L395.50,353.4 L395.62,370.9 L395.75,357.9 L395.88,363.2 L396.00,367.1 L396.12,370.0 L396.25,370.7 L396.38,364.7 L396.50,365.4 L396.62,371.7 L396.75,376.9 L396.88,369.3 L397.00,370.5 L397.12,368.7 L397.25,381.7 L397.38,366.8 L397.50,367.5 L397.62,371.3 L397.75,369.5 L397.88,363.4 L398.00,365.8 L398.12,369.8 L398.25,364.5 L398.38,386.6 L398.50,374.2 L398.62,363.9 L398.75,360.4 L398.88,370.0 L399.00,359.6 L399.12,370.8 L399.25,359.1 L399.38,364.8 L399.50,366.0 L399.62,365.9 L399.75,353.2 L399.88,369.0 L400.00,382.7 L400.12,381.0 L400.25,388.4 L400.38,376.7 L400.50,383.2 L400.62,397.0 L400.75,379.4 L400.88,377.7 L401.00,391.1 L401.12,390.0 L401.25,384.7 L401.38,375.1 L401.50,380.2 L401.62,381.7 L401.75,383.5 L401.88,379.5 L402.00,379.0 L402.12,381.3 L402.25,378.9 L402.38,381.7 L402.50,397.0 L402.62,385.6 L402.75,383.7 L402.88,388.5 L403.00,388.4 L403.12,379.7 L403.25,385.3 L403.38,387.7 L403.50,394.7 L403.62,383.5 L403.75,380.9 L403.88,388.1 L404.00,381.3 L404.12,386.6 L404.25,386.8 L404.38,380.6 L404.50,389.9 L404.62,383.7 L404.75,379.4 L404.88,366.6 L405.00,388.2 L405.12,397.0 L405.25,366.5 L405.38,384.0 L405.50,379.9 L405.62,375.4 L405.75,376.2 L405.88,390.1 L406.00,381.8 L406.12,383.8 L406.25,387.1 L406.38,372.7 L406.50,384.2 L406.62,365.6 L406.75,384.4 L406.88,380.1 L407.00,383.5 L407.12,388.0 L407.25,387.3 L407.38,385.6 L407.50,389.4 L407.62,384.1 L407.75,381.2 L407.88,379.0 L408.00,393.6 L408.12,381.0 L408.25,386.6 L408.38,378.6 L408.50,390.2 L408.62,386.5 L408.75,381.1 L408.88,377.7 L409.00,397.0 L409.12,379.6 L409.25,386.4 L409.38,390.1 L409.50,391.3 L409.62,389.4 L409.75,380.6 L409.88,390.5 L410.00,390.4 L410.12,379.1 L410.25,376.2 L410.38,390.6 L410.50,380.4 L410.62,376.9 L410.75,383.9 L410.88,385.6 L411.00,380.6 L411.12,379.3 L411.25,375.9 L411.38,389.7 L411.50,388.6 L411.62,384.0 L411.75,388.2 L411.88,386.2 L412.00,385.0 L412.12,381.3 L412.25,385.3 L412.38,382.7 L412.50,384.6 L412.62,381.6 L412.75,381.4 L412.88,372.9 L413.00,377.2 L413.12,387.5 L413.25,380.6 L413.38,370.8 L413.50,383.1 L413.62,379.9 L413.75,385.7 L413.88,380.8 L414.00,382.9 L414.12,378.9 L414.25,376.8 L414.38,379.9 L414.50,386.6 L414.62,390.1 L414.75,381.7 L414.88,376.3 L415.00,397.0 L415.12,389.6 L415.25,384.4 L415.38,387.0 L415.50,381.7 L415.62,383.1 L415.75,388.1 L415.88,390.6 L416.00,389.7 L416.12,392.5 L416.25,385.3 L416.38,375.9 L416.50,368.0 L416.62,385.0 L416.75,370.7 L416.88,383.7 L417.00,393.3 L417.12,389.7 L417.25,378.3 L417.38,387.4 L417.50,390.0 L417.62,391.2 L417.75,381.1 L417.88,393.4 L418.00,385.3 L418.12,383.4 L418.25,390.1 L418.38,368.8 L418.50,379.7 L418.62,388.3 L418.75,379.4 L418.88,380.3 L419.00,387.0 L419.12,385.5 L419.25,380.7 L419.38,385.5 L419.50,378.1 L419.62,383.5 L419.75,388.2 L419.88,385.1 L420.00,369.5 L420.12,385.5 L420.25,370.7 L420.38,386.0 L420.50,386.2 L420.62,385.4 L420.75,380.5 L420.88,371.6 L421.00,383.2 L421.12,377.5 L421.25,373.3 L421.38,376.5 L421.50,377.8 L421.62,376.3 L421.75,397.0 L421.88,381.9 L422.00,390.7 L422.12,392.9 L422.25,387.2 L422.38,387.5 L422.50,384.9 L422.62,388.0 L422.75,382.9 L422.88,382.0 L423.00,384.2 L423.12,381.9 L423.25,384.6 L423.38,379.6 L423.50,390.0 L423.62,383.7 L423.75,388.7 L423.88,382.1 L424.00,381.7 L424.12,388.9 L424.25,384.2 L424.38,387.8 L424.50,387.3 L424.62,380.4 L424.75,380.0 L424.88,385.0 L425.00,392.9 L425.12,386.2 L425.25,387.6 L425.38,386.9 L425.50,393.8 L425.62,391.8 L425.75,389.9 L425.88,385.5 L426.00,376.6 L426.12,391.8 L426.25,383.3 L426.38,385.7 L426.50,395.2 L426.62,384.3 L426.75,379.6 L426.88,384.1 L427.00,392.4 L427.12,380.8 L427.25,387.5 L427.38,383.0 L427.50,384.6 L427.62,382.8 L427.75,386.3 L427.88,390.2 L428.00,378.0 L428.12,376.0 L428.25,377.0 L428.38,382.6 L428.50,395.7 L428.62,367.7 L428.75,380.1 L428.88,370.6 L429.00,379.7 L429.12,385.9 L429.25,384.3 L429.38,373.6 L429.50,381.6 L429.62,380.6 L429.75,381.9 L429.88,380.8 L430.00,374.5 L430.12,388.5 L430.25,380.5 L430.38,382.6 L430.50,378.0 L430.62,388.9 L430.75,387.9 L430.88,383.5 L431.00,384.8 L431.12,383.5 L431.25,381.0 L431.38,381.1 L431.50,380.4 L431.62,388.3 L431.75,382.9 L431.88,385.9 L432.00,376.7 L432.12,379.4 L432.25,374.3 L432.38,388.0 L432.50,379.9 L432.62,392.5 L432.75,377.5 L432.88,383.2 L433.00,362.2 L433.12,368.4 L433.25,371.1 L433.38,371.6 L433.50,363.1 L433.62,366.9 L433.75,372.6 L433.88,367.6 L434.00,364.9 L434.12,366.6 L434.25,375.3 L434.38,366.1 L434.50,370.8 L434.62,370.4 L434.75,365.4 L434.88,355.0 L435.00,363.9 L435.12,373.9 L435.25,360.6 L435.38,363.7 L435.50,368.2 L435.62,373.4 L435.75,368.9 L435.88,370.5 L436.00,369.6 L436.12,368.7 L436.25,360.9 L436.38,366.9 L436.50,365.0 L436.62,369.7 L436.75,363.2 L436.88,363.9 L437.00,369.7 L437.12,373.7 L437.25,368.8 L437.38,380.6 L437.50,365.6 L437.62,370.8 L437.75,368.7 L437.88,368.8" fill="none" stroke="#a9d1c8" stroke-width="0.9" stroke-linejoin="round" opacity="1"/>
<path d="M435.9,26.4 C436.17,26.82 436.61,28.17 437.5,28.9 C438.39,29.62 440,30.23 441.25,30.75 C442.5,31.27 443.96,31.62 445,32 C446.04,32.38 446.88,32.65 447.5,33 C448.12,33.35 448.42,33.63 448.75,34.1 C449.08,34.57 449.16,35.13 449.5,35.8 C449.84,36.47 449.95,37.47 450.8,38.1 C451.65,38.73 452.37,39.15 454.6,39.6 C456.83,40.05 461,40.43 464.2,40.8 C467.4,41.17 470.58,41.47 473.8,41.8 C477.02,42.13 480.85,42.5 483.5,42.8 C486.15,43.1 489.7,43.3 489.7,43.6 C489.7,43.9 486.15,44.32 483.5,44.6 C480.85,44.88 477.02,45.03 473.8,45.3 C470.58,45.57 467.08,45.85 464.2,46.2 C461.32,46.55 458.42,46.97 456.5,47.4 C454.58,47.83 453.4,48.32 452.7,48.8 C452,49.28 452.17,49.77 452.3,50.3 C452.43,50.83 453.48,51.5 453.5,52 C453.52,52.5 452.98,52.9 452.4,53.3 C451.82,53.7 451.23,53.97 450,54.4 C448.77,54.83 446.57,55.32 445,55.85 C443.43,56.38 441.85,56.99 440.6,57.6 C439.35,58.21 438.23,58.87 437.5,59.5 C436.77,60.13 436.52,60.77 436.25,61.4 C435.98,62.02 435.96,62.94 435.9,63.25 L435.9,63.25 L435.9,26.4 Z" fill="#e9a136" stroke="none"/>
<path d="M435.9,26.4 C436.17,26.82 436.61,28.17 437.5,28.9 C438.39,29.62 440,30.23 441.25,30.75 C442.5,31.27 443.96,31.62 445,32 C446.04,32.38 446.88,32.65 447.5,33 C448.12,33.35 448.42,33.63 448.75,34.1 C449.08,34.57 449.16,35.13 449.5,35.8 C449.84,36.47 449.95,37.47 450.8,38.1 C451.65,38.73 452.37,39.15 454.6,39.6 C456.83,40.05 461,40.43 464.2,40.8 C467.4,41.17 470.58,41.47 473.8,41.8 C477.02,42.13 480.85,42.5 483.5,42.8 C486.15,43.1 489.7,43.3 489.7,43.6 C489.7,43.9 486.15,44.32 483.5,44.6 C480.85,44.88 477.02,45.03 473.8,45.3 C470.58,45.57 467.08,45.85 464.2,46.2 C461.32,46.55 458.42,46.97 456.5,47.4 C454.58,47.83 453.4,48.32 452.7,48.8 C452,49.28 452.17,49.77 452.3,50.3 C452.43,50.83 453.48,51.5 453.5,52 C453.52,52.5 452.98,52.9 452.4,53.3 C451.82,53.7 451.23,53.97 450,54.4 C448.77,54.83 446.57,55.32 445,55.85 C443.43,56.38 441.85,56.99 440.6,57.6 C439.35,58.21 438.23,58.87 437.5,59.5 C436.77,60.13 436.52,60.77 436.25,61.4 C435.98,62.02 435.96,62.94 435.9,63.25" fill="none" stroke="#111" stroke-width="1.3"/>
<line x1="435.9" y1="25.6" x2="435.9" y2="64.5" stroke="#111" stroke-width="1.3"/>
<line x1="434.75" y1="72.6" x2="448.75" y2="72.6" stroke="#111" stroke-width="1.5"/>
<path d="M440.25,204.9 C440.62,205.32 441.29,206.57 442.5,207.4 C443.71,208.23 445.42,209.18 447.5,209.9 C449.58,210.62 452.71,211.23 455,211.75 C457.29,212.27 459.72,212.64 461.25,213 C462.78,213.36 463.57,213.62 464.2,213.9 C464.82,214.18 465,214.42 465,214.7 C465,214.98 465.03,215.12 464.2,215.6 C463.37,216.08 462.16,216.82 460,217.6 C457.84,218.38 453.65,219.43 451.25,220.3 C448.85,221.17 446.68,222.03 445.6,222.8 C444.52,223.57 444.43,224.27 444.75,224.9 C445.07,225.53 445.38,225.98 447.5,226.6 C449.62,227.22 453.75,227.95 457.5,228.6 C461.25,229.25 466.25,229.95 470,230.5 C473.75,231.05 477.45,231.52 480,231.9 C482.55,232.28 484.27,232.55 485.3,232.8 C486.33,233.05 486.2,233.18 486.2,233.4 C486.2,233.62 486.96,233.68 485.3,234.1 C483.64,234.52 480.05,235.25 476.25,235.9 C472.45,236.55 466.67,237.23 462.5,238 C458.33,238.77 453.65,239.77 451.25,240.5 C448.85,241.23 448.21,241.73 448.1,242.4 C447.99,243.07 449.03,243.78 450.6,244.5 C452.17,245.22 455.31,245.97 457.5,246.75 C459.69,247.53 462.23,248.56 463.75,249.2 C465.27,249.84 466.03,250.23 466.6,250.6 C467.18,250.97 467.27,251.1 467.2,251.4 C467.13,251.7 467.61,251.75 466.2,252.4 C464.79,253.05 461.45,254.37 458.75,255.3 C456.05,256.23 452.5,257.23 450,258 C447.5,258.77 445.32,259.27 443.75,259.9 C442.18,260.52 441.23,261.13 440.6,261.75 C439.98,262.37 440.1,263.29 440,263.6 L440,263.6 L440,204.9 Z" fill="#3b8f53" stroke="none"/>
<path d="M440.25,204.9 C440.62,205.32 441.29,206.57 442.5,207.4 C443.71,208.23 445.42,209.18 447.5,209.9 C449.58,210.62 452.71,211.23 455,211.75 C457.29,212.27 459.72,212.64 461.25,213 C462.78,213.36 463.57,213.62 464.2,213.9 C464.82,214.18 465,214.42 465,214.7 C465,214.98 465.03,215.12 464.2,215.6 C463.37,216.08 462.16,216.82 460,217.6 C457.84,218.38 453.65,219.43 451.25,220.3 C448.85,221.17 446.68,222.03 445.6,222.8 C444.52,223.57 444.43,224.27 444.75,224.9 C445.07,225.53 445.38,225.98 447.5,226.6 C449.62,227.22 453.75,227.95 457.5,228.6 C461.25,229.25 466.25,229.95 470,230.5 C473.75,231.05 477.45,231.52 480,231.9 C482.55,232.28 484.27,232.55 485.3,232.8 C486.33,233.05 486.2,233.18 486.2,233.4 C486.2,233.62 486.96,233.68 485.3,234.1 C483.64,234.52 480.05,235.25 476.25,235.9 C472.45,236.55 466.67,237.23 462.5,238 C458.33,238.77 453.65,239.77 451.25,240.5 C448.85,241.23 448.21,241.73 448.1,242.4 C447.99,243.07 449.03,243.78 450.6,244.5 C452.17,245.22 455.31,245.97 457.5,246.75 C459.69,247.53 462.23,248.56 463.75,249.2 C465.27,249.84 466.03,250.23 466.6,250.6 C467.18,250.97 467.27,251.1 467.2,251.4 C467.13,251.7 467.61,251.75 466.2,252.4 C464.79,253.05 461.45,254.37 458.75,255.3 C456.05,256.23 452.5,257.23 450,258 C447.5,258.77 445.32,259.27 443.75,259.9 C442.18,260.52 441.23,261.13 440.6,261.75 C439.98,262.37 440.1,263.29 440,263.6" fill="none" stroke="#111" stroke-width="1.3"/>
<line x1="440" y1="195" x2="440" y2="273" stroke="#111" stroke-width="1.3"/>
<line x1="435" y1="270.3" x2="465.5" y2="270.3" stroke="#111" stroke-width="1.5"/>
<path d="M440.25,330 C440.32,331.04 440.07,334.58 440.65,336.25 C441.23,337.92 442.19,338.86 443.75,340 C445.31,341.14 447.71,342.17 450,343.1 C452.29,344.03 455.42,344.87 457.5,345.6 C459.58,346.33 461.5,346.93 462.5,347.5 C463.5,348.07 463.61,348.38 463.5,349 C463.39,349.62 462.74,350.35 461.85,351.25 C460.96,352.15 458.67,353.46 458.15,354.4 C457.63,355.34 457.19,355.97 458.75,356.9 C460.31,357.83 464.17,358.97 467.5,360 C470.83,361.03 475.42,362.17 478.75,363.1 C482.08,364.03 485.52,364.93 487.5,365.6 C489.48,366.27 490.65,366.58 490.65,367.1 C490.65,367.62 489.69,367.85 487.5,368.75 C485.31,369.65 480,371.36 477.5,372.5 C475,373.64 473.12,374.67 472.5,375.6 C471.88,376.53 472.08,377.27 473.75,378.1 C475.42,378.93 479.79,379.77 482.5,380.6 C485.21,381.43 488.02,382.41 490,383.1 C491.98,383.79 494.35,384.12 494.35,384.75 C494.35,385.38 492.81,386.07 490,386.9 C487.19,387.73 482.5,388.82 477.5,389.75 C472.5,390.68 465,391.62 460,392.5 C455,393.38 450.52,394.17 447.5,395 C444.48,395.83 442.99,396.67 441.85,397.5 C440.71,398.33 440.92,399.17 440.65,400 C440.38,400.83 440.32,402.08 440.25,402.5 L440.25,402.5 L440.25,330 Z" fill="#a3c3bc" stroke="none"/>
<path d="M440.25,330 C440.32,331.04 440.07,334.58 440.65,336.25 C441.23,337.92 442.19,338.86 443.75,340 C445.31,341.14 447.71,342.17 450,343.1 C452.29,344.03 455.42,344.87 457.5,345.6 C459.58,346.33 461.5,346.93 462.5,347.5 C463.5,348.07 463.61,348.38 463.5,349 C463.39,349.62 462.74,350.35 461.85,351.25 C460.96,352.15 458.67,353.46 458.15,354.4 C457.63,355.34 457.19,355.97 458.75,356.9 C460.31,357.83 464.17,358.97 467.5,360 C470.83,361.03 475.42,362.17 478.75,363.1 C482.08,364.03 485.52,364.93 487.5,365.6 C489.48,366.27 490.65,366.58 490.65,367.1 C490.65,367.62 489.69,367.85 487.5,368.75 C485.31,369.65 480,371.36 477.5,372.5 C475,373.64 473.12,374.67 472.5,375.6 C471.88,376.53 472.08,377.27 473.75,378.1 C475.42,378.93 479.79,379.77 482.5,380.6 C485.21,381.43 488.02,382.41 490,383.1 C491.98,383.79 494.35,384.12 494.35,384.75 C494.35,385.38 492.81,386.07 490,386.9 C487.19,387.73 482.5,388.82 477.5,389.75 C472.5,390.68 465,391.62 460,392.5 C455,393.38 450.52,394.17 447.5,395 C444.48,395.83 442.99,396.67 441.85,397.5 C440.71,398.33 440.92,399.17 440.65,400 C440.38,400.83 440.32,402.08 440.25,402.5" fill="none" stroke="#111" stroke-width="1.3"/>
<line x1="440.25" y1="329.5" x2="440.25" y2="402.5" stroke="#111" stroke-width="1.3"/>
<line x1="434.8" y1="406.2" x2="464.6" y2="406.2" stroke="#111" stroke-width="1.5"/>
<text x="414.5" y="417.8" font-size="11" font-weight="normal" fill="#111" text-anchor="start">500 Counts</text>
<line x1="295" y1="35.1" x2="496.5" y2="35.1" stroke="#3a3a3a" stroke-width="1.6" stroke-dasharray="1.7 2.75"/>
<line x1="295" y1="44.2" x2="496.5" y2="44.2" stroke="#3a3a3a" stroke-width="1.6" stroke-dasharray="1.7 2.75"/>
<line x1="295" y1="52.8" x2="496.5" y2="52.8" stroke="#3a3a3a" stroke-width="1.6" stroke-dasharray="1.7 2.75"/>
<line x1="166.3" y1="214.9" x2="496" y2="214.9" stroke="#3a3a3a" stroke-width="1.6" stroke-dasharray="1.7 2.75"/>
<line x1="166.3" y1="233.4" x2="496" y2="233.4" stroke="#3a3a3a" stroke-width="1.6" stroke-dasharray="1.7 2.75"/>
<line x1="166.3" y1="252.1" x2="496" y2="252.1" stroke="#3a3a3a" stroke-width="1.6" stroke-dasharray="1.7 2.75"/>
<line x1="168.8" y1="348.4" x2="494.5" y2="348.4" stroke="#3a3a3a" stroke-width="1.6" stroke-dasharray="1.7 2.75"/>
<line x1="168.8" y1="367" x2="494.5" y2="367" stroke="#3a3a3a" stroke-width="1.6" stroke-dasharray="1.7 2.75"/>
<line x1="168.8" y1="385.2" x2="494.5" y2="385.2" stroke="#3a3a3a" stroke-width="1.6" stroke-dasharray="1.7 2.75"/>
<text x="154.3" y="45.5" font-size="12.6" font-weight="bold" fill="#000" text-anchor="start">8.3 pN</text>
<text x="158.5" y="199.8" font-size="12.6" font-weight="bold" fill="#000" text-anchor="start">9.0 pN</text>
<text x="159.3" y="331" font-size="12.6" font-weight="bold" fill="#000" text-anchor="start">7.5 pN</text>
<path d="M159,126 V136.5 H174.8" fill="none" stroke="#111" stroke-width="1.4"/>
<text x="156.2" y="140.8" font-size="10.3" font-weight="normal" fill="#111" text-anchor="start" transform="rotate(-90 156.2 140.8)">10 nm</text>
<text x="160.8" y="148.8" font-size="10.6" font-weight="normal" fill="#111" text-anchor="start">60 s</text>
<path d="M163.3,251.3 V271.4 H251.8" fill="none" stroke="#111" stroke-width="1.4"/>
<text x="159.8" y="276" font-size="10.3" font-weight="normal" fill="#111" text-anchor="start" transform="rotate(-90 159.8 276)">10 nm</text>
<text x="165" y="285.2" font-size="10.6" font-weight="normal" fill="#111" text-anchor="start">60 s</text>
<path d="M163.8,378.8 V399 H216.3" fill="none" stroke="#111" stroke-width="1.4"/>
<text x="160" y="402.5" font-size="10.3" font-weight="normal" fill="#111" text-anchor="start" transform="rotate(-90 160 402.5)">10 nm</text>
<text x="165.8" y="411.3" font-size="10.6" font-weight="normal" fill="#111" text-anchor="start">60 s</text>
<line x1="215.5" y1="123.8" x2="190.31" y2="106.47" stroke="#4fa5cc" stroke-width="1.9"/>
<path d="M185.7,103.3 L194.61,104.46 L189.97,111.21 Z" fill="#4fa5cc"/>
<line x1="326" y1="88.8" x2="301.13" y2="70.7" stroke="#4fa5cc" stroke-width="1.9"/>
<path d="M296.6,67.4 L305.48,68.79 L300.66,75.42 Z" fill="#4fa5cc"/>
<text x="219.3" y="127.6" font-size="12.9" font-weight="bold" fill="#4fa5cc" text-anchor="start">A2 unfoldings</text>
<line x1="52" y1="456" x2="52" y2="656.25" stroke="#1a1a1a" stroke-width="1.5"/>
<line x1="51.25" y1="655.5" x2="252" y2="655.5" stroke="#1a1a1a" stroke-width="1.5"/>
<line x1="48" y1="633" x2="52" y2="633" stroke="#1a1a1a" stroke-width="1.3"/>
<text x="43.3" y="636.8" font-size="10.6" font-weight="normal" fill="#111" text-anchor="end">7</text>
<line x1="48" y1="594.75" x2="52" y2="594.75" stroke="#1a1a1a" stroke-width="1.3"/>
<text x="43.3" y="598.55" font-size="10.6" font-weight="normal" fill="#111" text-anchor="end">8</text>
<line x1="48" y1="556.5" x2="52" y2="556.5" stroke="#1a1a1a" stroke-width="1.3"/>
<text x="43.3" y="560.3" font-size="10.6" font-weight="normal" fill="#111" text-anchor="end">9</text>
<line x1="48" y1="518.25" x2="52" y2="518.25" stroke="#1a1a1a" stroke-width="1.3"/>
<text x="43.3" y="522.05" font-size="10.6" font-weight="normal" fill="#111" text-anchor="end">10</text>
<line x1="48" y1="480" x2="52" y2="480" stroke="#1a1a1a" stroke-width="1.3"/>
<text x="43.3" y="483.8" font-size="10.6" font-weight="normal" fill="#111" text-anchor="end">11</text>
<line x1="85.5" y1="655.5" x2="85.5" y2="659" stroke="#1a1a1a" stroke-width="1.3"/>
<text x="85.5" y="672.4" font-size="10.6" font-weight="normal" fill="#111" text-anchor="middle">wt</text>
<line x1="151.75" y1="655.5" x2="151.75" y2="659" stroke="#1a1a1a" stroke-width="1.3"/>
<text x="151.75" y="672.4" font-size="10.6" font-weight="normal" fill="#111" text-anchor="middle">delD4</text>
<line x1="218.25" y1="655.5" x2="218.25" y2="659" stroke="#1a1a1a" stroke-width="1.3"/>
<text x="218.25" y="672.4" font-size="10.6" font-weight="normal" fill="#111" text-anchor="middle">delA1</text>
<path d="M85.5,482.5 V475.5 H218.25 V482.5 M151.75,475.5 V482.5" fill="none" stroke="#222" stroke-width="1.4"/>
<text x="151.9" y="472" font-size="10.4" font-weight="normal" fill="#111" text-anchor="middle">n.s.</text>
<rect x="69.25" y="556.5" width="32.5" height="43.6" fill="#fcc88d"/>
<line x1="85.5" y1="518.25" x2="85.5" y2="556.5" stroke="#333" stroke-width="1.5"/>
<line x1="85.5" y1="600.1" x2="85.5" y2="644.7" stroke="#333" stroke-width="1.5"/>
<line x1="78" y1="518.25" x2="93" y2="518.25" stroke="#333" stroke-width="1.5"/>
<line x1="78" y1="644.7" x2="93" y2="644.7" stroke="#333" stroke-width="1.5"/>
<line x1="69.25" y1="578" x2="101.75" y2="578" stroke="#111" stroke-width="1.6"/>
<circle cx="85.5" cy="464.5" r="2.95" fill="#f98e14"/>
<circle cx="80" cy="518" r="2.95" fill="#f98e14"/>
<circle cx="85.5" cy="518.25" r="2.95" fill="#f98e14"/>
<circle cx="90.5" cy="522.5" r="2.95" fill="#f98e14"/>
<circle cx="80" cy="539.25" r="2.95" fill="#f98e14"/>
<circle cx="85.5" cy="543.5" r="2.95" fill="#f98e14"/>
<circle cx="90.5" cy="546" r="2.95" fill="#f98e14"/>
<circle cx="80" cy="557" r="2.95" fill="#f98e14"/>
<circle cx="85.5" cy="557.3" r="2.95" fill="#f98e14"/>
<circle cx="90.5" cy="560" r="2.95" fill="#f98e14"/>
<circle cx="80" cy="562" r="2.95" fill="#f98e14"/>
<circle cx="85.5" cy="563" r="2.95" fill="#f98e14"/>
<circle cx="90.5" cy="564.5" r="2.95" fill="#f98e14"/>
<circle cx="80" cy="567.5" r="2.95" fill="#f98e14"/>
<circle cx="85.5" cy="573" r="2.95" fill="#f98e14"/>
<circle cx="90.5" cy="576.25" r="2.95" fill="#f98e14"/>
<circle cx="80" cy="578.75" r="2.95" fill="#f98e14"/>
<circle cx="85.5" cy="578.75" r="2.95" fill="#f98e14"/>
<circle cx="90.5" cy="578.75" r="2.95" fill="#f98e14"/>
<circle cx="80" cy="582.5" r="2.95" fill="#f98e14"/>
<circle cx="85.5" cy="583" r="2.95" fill="#f98e14"/>
<circle cx="80" cy="589.5" r="2.95" fill="#f98e14"/>
<circle cx="90.5" cy="587.5" r="2.95" fill="#f98e14"/>
<circle cx="85.5" cy="592" r="2.95" fill="#f98e14"/>
<circle cx="90.5" cy="597.5" r="2.95" fill="#f98e14"/>
<circle cx="80" cy="602.5" r="2.95" fill="#f98e14"/>
<circle cx="85.5" cy="605.5" r="2.95" fill="#f98e14"/>
<circle cx="90.5" cy="607" r="2.95" fill="#f98e14"/>
<circle cx="80" cy="612.5" r="2.95" fill="#f98e14"/>
<circle cx="85.5" cy="619.5" r="2.95" fill="#f98e14"/>
<circle cx="90.5" cy="633.25" r="2.95" fill="#f98e14"/>
<circle cx="80" cy="641.25" r="2.95" fill="#f98e14"/>
<circle cx="85.5" cy="644.5" r="2.95" fill="#f98e14"/>
<rect x="135.6" y="561.3" width="32.5" height="32.3" fill="#9dd7a3"/>
<line x1="152" y1="519.8" x2="152" y2="561.3" stroke="#333" stroke-width="1.5"/>
<line x1="152" y1="593.6" x2="152" y2="599.7" stroke="#333" stroke-width="1.5"/>
<line x1="144.25" y1="519.8" x2="159.75" y2="519.8" stroke="#333" stroke-width="1.5"/>
<line x1="144.25" y1="599.7" x2="159.75" y2="599.7" stroke="#333" stroke-width="1.5"/>
<line x1="135.6" y1="578.9" x2="168.1" y2="578.9" stroke="#111" stroke-width="1.6"/>
<circle cx="152" cy="519.8" r="2.95" fill="#2bb04b"/>
<circle cx="157.1" cy="537.9" r="2.95" fill="#2bb04b"/>
<circle cx="146.4" cy="556.9" r="2.95" fill="#2bb04b"/>
<circle cx="152" cy="564.3" r="2.95" fill="#2bb04b"/>
<circle cx="157.1" cy="565.7" r="2.95" fill="#2bb04b"/>
<circle cx="146.4" cy="576.4" r="2.95" fill="#2bb04b"/>
<circle cx="152" cy="578.9" r="2.95" fill="#2bb04b"/>
<circle cx="157.1" cy="585.2" r="2.95" fill="#2bb04b"/>
<circle cx="146.4" cy="587" r="2.95" fill="#2bb04b"/>
<circle cx="152" cy="591.8" r="2.95" fill="#2bb04b"/>
<circle cx="157.1" cy="594.3" r="2.95" fill="#2bb04b"/>
<circle cx="146.4" cy="595" r="2.95" fill="#2bb04b"/>
<circle cx="152" cy="599.7" r="2.95" fill="#2bb04b"/>
<rect x="202.5" y="553.25" width="32" height="51.25" fill="#b4d4cd"/>
<line x1="218.25" y1="532" x2="218.25" y2="553.25" stroke="#333" stroke-width="1.5"/>
<line x1="218.25" y1="604.5" x2="218.25" y2="646.25" stroke="#333" stroke-width="1.5"/>
<line x1="210.5" y1="532" x2="226" y2="532" stroke="#333" stroke-width="1.5"/>
<line x1="210.5" y1="646.25" x2="226" y2="646.25" stroke="#333" stroke-width="1.5"/>
<line x1="202.5" y1="589.25" x2="234.5" y2="589.25" stroke="#111" stroke-width="1.6"/>
<circle cx="218.25" cy="532" r="2.95" fill="#60a390"/>
<circle cx="212.5" cy="544" r="2.95" fill="#60a390"/>
<circle cx="218.25" cy="550.3" r="2.95" fill="#60a390"/>
<circle cx="223.25" cy="552.8" r="2.95" fill="#60a390"/>
<circle cx="212.5" cy="557" r="2.95" fill="#60a390"/>
<circle cx="218.25" cy="580.75" r="2.95" fill="#60a390"/>
<circle cx="223.25" cy="580.75" r="2.95" fill="#60a390"/>
<circle cx="212.5" cy="589.25" r="2.95" fill="#60a390"/>
<circle cx="218.25" cy="593.75" r="2.95" fill="#60a390"/>
<circle cx="223.25" cy="594.5" r="2.95" fill="#60a390"/>
<circle cx="212.5" cy="603" r="2.95" fill="#60a390"/>
<circle cx="218.25" cy="604.5" r="2.95" fill="#60a390"/>
<circle cx="223.25" cy="608" r="2.95" fill="#60a390"/>
<circle cx="212.5" cy="637.5" r="2.95" fill="#60a390"/>
<circle cx="218.25" cy="646.25" r="2.95" fill="#60a390"/>
<line x1="315.2" y1="453" x2="315.2" y2="656.05" stroke="#1a1a1a" stroke-width="1.5"/>
<line x1="314.45" y1="655.3" x2="510" y2="655.3" stroke="#1a1a1a" stroke-width="1.5"/>
<line x1="311.2" y1="652.8" x2="315.2" y2="652.8" stroke="#1a1a1a" stroke-width="1.3"/>
<text x="306.9" y="656.6" font-size="10.6" font-weight="normal" fill="#111" text-anchor="end">4</text>
<line x1="311.2" y1="614.7" x2="315.2" y2="614.7" stroke="#1a1a1a" stroke-width="1.3"/>
<text x="306.9" y="618.5" font-size="10.6" font-weight="normal" fill="#111" text-anchor="end">6</text>
<line x1="311.2" y1="576.6" x2="315.2" y2="576.6" stroke="#1a1a1a" stroke-width="1.3"/>
<text x="306.9" y="580.4" font-size="10.6" font-weight="normal" fill="#111" text-anchor="end">8</text>
<line x1="311.2" y1="538.5" x2="315.2" y2="538.5" stroke="#1a1a1a" stroke-width="1.3"/>
<text x="306.9" y="542.3" font-size="10.6" font-weight="normal" fill="#111" text-anchor="end">10</text>
<line x1="311.2" y1="500.4" x2="315.2" y2="500.4" stroke="#1a1a1a" stroke-width="1.3"/>
<text x="306.9" y="504.2" font-size="10.6" font-weight="normal" fill="#111" text-anchor="end">12</text>
<line x1="311.2" y1="462.3" x2="315.2" y2="462.3" stroke="#1a1a1a" stroke-width="1.3"/>
<text x="306.9" y="466.1" font-size="10.6" font-weight="normal" fill="#111" text-anchor="end">14</text>
<line x1="349.2" y1="655.3" x2="349.2" y2="658.8" stroke="#1a1a1a" stroke-width="1.3"/>
<text x="349.2" y="672.4" font-size="10.6" font-weight="normal" fill="#111" text-anchor="middle">wt</text>
<line x1="416.35" y1="655.3" x2="416.35" y2="658.8" stroke="#1a1a1a" stroke-width="1.3"/>
<text x="416.35" y="672.4" font-size="10.6" font-weight="normal" fill="#111" text-anchor="middle">delD4</text>
<line x1="484" y1="655.3" x2="484" y2="658.8" stroke="#1a1a1a" stroke-width="1.3"/>
<text x="484" y="672.4" font-size="10.6" font-weight="normal" fill="#111" text-anchor="middle">delA1</text>
<path d="M349.2,480.4 V473.7 H482.4 V480.4 M416.35,473.7 V480.4" fill="none" stroke="#222" stroke-width="1.4"/>
<text x="416.6" y="469.4" font-size="10.4" font-weight="normal" fill="#111" text-anchor="middle">n.s.</text>
<rect x="333.1" y="567.1" width="32.2" height="41" fill="#fcc88d"/>
<line x1="349.2" y1="512" x2="349.2" y2="567.1" stroke="#333" stroke-width="1.5"/>
<line x1="349.2" y1="608.1" x2="349.2" y2="646.1" stroke="#333" stroke-width="1.5"/>
<line x1="341.7" y1="512" x2="356.7" y2="512" stroke="#333" stroke-width="1.5"/>
<line x1="341.7" y1="646.1" x2="356.7" y2="646.1" stroke="#333" stroke-width="1.5"/>
<line x1="333.1" y1="588.1" x2="365.3" y2="588.1" stroke="#111" stroke-width="1.6"/>
<circle cx="349.4" cy="494" r="2.95" fill="#f98e14"/>
<circle cx="344" cy="512" r="2.95" fill="#f98e14"/>
<circle cx="349.2" cy="548.1" r="2.95" fill="#f98e14"/>
<circle cx="354.8" cy="551" r="2.95" fill="#f98e14"/>
<circle cx="344" cy="558.1" r="2.95" fill="#f98e14"/>
<circle cx="349.2" cy="560.2" r="2.95" fill="#f98e14"/>
<circle cx="354.8" cy="562.9" r="2.95" fill="#f98e14"/>
<circle cx="344" cy="565.5" r="2.95" fill="#f98e14"/>
<circle cx="349.2" cy="568.7" r="2.95" fill="#f98e14"/>
<circle cx="354.8" cy="569" r="2.95" fill="#f98e14"/>
<circle cx="344" cy="573.1" r="2.95" fill="#f98e14"/>
<circle cx="349.2" cy="574.7" r="2.95" fill="#f98e14"/>
<circle cx="354.8" cy="574.7" r="2.95" fill="#f98e14"/>
<circle cx="344" cy="579.5" r="2.95" fill="#f98e14"/>
<circle cx="349.2" cy="582.7" r="2.95" fill="#f98e14"/>
<circle cx="354.8" cy="586.8" r="2.95" fill="#f98e14"/>
<circle cx="344" cy="588.1" r="2.95" fill="#f98e14"/>
<circle cx="349.2" cy="588.4" r="2.95" fill="#f98e14"/>
<circle cx="344" cy="592.4" r="2.95" fill="#f98e14"/>
<circle cx="349.2" cy="595.6" r="2.95" fill="#f98e14"/>
<circle cx="354.8" cy="595.6" r="2.95" fill="#f98e14"/>
<circle cx="344" cy="603.7" r="2.95" fill="#f98e14"/>
<circle cx="349.2" cy="606.1" r="2.95" fill="#f98e14"/>
<circle cx="354.8" cy="606.1" r="2.95" fill="#f98e14"/>
<circle cx="344" cy="607.7" r="2.95" fill="#f98e14"/>
<circle cx="349.2" cy="609.4" r="2.95" fill="#f98e14"/>
<circle cx="354.8" cy="615" r="2.95" fill="#f98e14"/>
<circle cx="344" cy="625.2" r="2.95" fill="#f98e14"/>
<circle cx="349.2" cy="626.3" r="2.95" fill="#f98e14"/>
<circle cx="354.8" cy="628.7" r="2.95" fill="#f98e14"/>
<circle cx="344" cy="630.3" r="2.95" fill="#f98e14"/>
<circle cx="349.2" cy="645.6" r="2.95" fill="#f98e14"/>
<rect x="400.5" y="552.7" width="32" height="68.2" fill="#9dd7a3"/>
<line x1="416.35" y1="486.6" x2="416.35" y2="552.7" stroke="#333" stroke-width="1.5"/>
<line x1="416.35" y1="620.9" x2="416.35" y2="642.3" stroke="#333" stroke-width="1.5"/>
<line x1="408.85" y1="486.6" x2="423.85" y2="486.6" stroke="#333" stroke-width="1.5"/>
<line x1="408.85" y1="642.3" x2="423.85" y2="642.3" stroke="#333" stroke-width="1.5"/>
<line x1="400.5" y1="608.9" x2="432.5" y2="608.9" stroke="#111" stroke-width="1.6"/>
<circle cx="416.35" cy="486.6" r="2.95" fill="#2bb04b"/>
<circle cx="421.7" cy="537" r="2.95" fill="#2bb04b"/>
<circle cx="411" cy="551.4" r="2.95" fill="#2bb04b"/>
<circle cx="416.35" cy="554.3" r="2.95" fill="#2bb04b"/>
<circle cx="421.7" cy="569.2" r="2.95" fill="#2bb04b"/>
<circle cx="411" cy="605.2" r="2.95" fill="#2bb04b"/>
<circle cx="416.35" cy="608.7" r="2.95" fill="#2bb04b"/>
<circle cx="421.7" cy="610.8" r="2.95" fill="#2bb04b"/>
<circle cx="411" cy="613.2" r="2.95" fill="#2bb04b"/>
<circle cx="416.35" cy="614" r="2.95" fill="#2bb04b"/>
<circle cx="421.7" cy="637.7" r="2.95" fill="#2bb04b"/>
<circle cx="411" cy="641.5" r="2.95" fill="#2bb04b"/>
<circle cx="416.35" cy="643.1" r="2.95" fill="#2bb04b"/>
<rect x="468.1" y="509.1" width="32" height="94.7" fill="#b4d4cd"/>
<line x1="484.1" y1="461.9" x2="484.1" y2="509.1" stroke="#333" stroke-width="1.5"/>
<line x1="484.1" y1="603.8" x2="484.1" y2="620.5" stroke="#333" stroke-width="1.5"/>
<line x1="476.4" y1="461.9" x2="491.8" y2="461.9" stroke="#333" stroke-width="1.5"/>
<line x1="476.4" y1="620.5" x2="491.8" y2="620.5" stroke="#333" stroke-width="1.5"/>
<line x1="468.1" y1="589.2" x2="500.1" y2="589.2" stroke="#111" stroke-width="1.6"/>
<circle cx="484.1" cy="461.9" r="2.95" fill="#60a390"/>
<circle cx="484.1" cy="469.1" r="2.95" fill="#60a390"/>
<circle cx="489.3" cy="499.9" r="2.95" fill="#60a390"/>
<circle cx="478.5" cy="510" r="2.95" fill="#60a390"/>
<circle cx="484.1" cy="534.4" r="2.95" fill="#60a390"/>
<circle cx="478.75" cy="584.9" r="2.95" fill="#60a390"/>
<circle cx="490" cy="581.5" r="2.95" fill="#60a390"/>
<circle cx="484" cy="593.8" r="2.95" fill="#60a390"/>
<circle cx="478.75" cy="601" r="2.95" fill="#60a390"/>
<circle cx="490" cy="598.8" r="2.95" fill="#60a390"/>
<circle cx="484" cy="602.9" r="2.95" fill="#60a390"/>
<circle cx="490" cy="603.7" r="2.95" fill="#60a390"/>
<circle cx="478.75" cy="607.3" r="2.95" fill="#60a390"/>
<circle cx="484" cy="620.5" r="2.95" fill="#60a390"/>
<g transform="translate(22.9,574.6) rotate(-90) scale(0.78,1)"><text x="0" y="0" font-size="12" fill="#111" stroke="#111" stroke-width="0.25">F<tspan font-size="10" dy="2.9">1/2</tspan><tspan dy="-2.9"> (pN)</tspan></text></g>
<g transform="translate(285.6,572) rotate(-90) scale(0.83,1)"><text x="0" y="0" font-size="12" fill="#111" stroke="#111" stroke-width="0.25">&#916;z (nm)</text></g>
</svg></body></html>
